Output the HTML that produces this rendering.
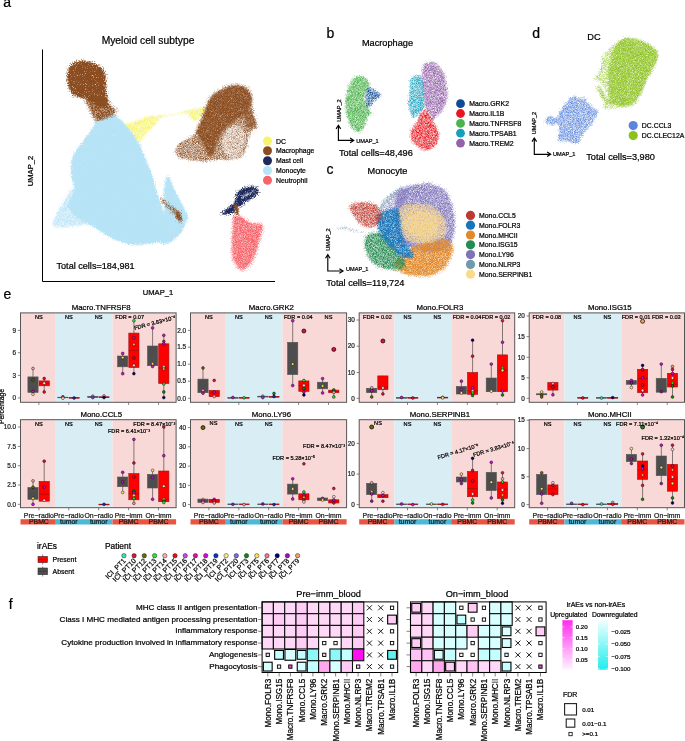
<!DOCTYPE html>
<html><head><meta charset="utf-8"><title>Figure</title>
<style>
html,body{margin:0;padding:0;background:#fff;}
svg{display:block;}
text{font-family:"Liberation Sans", sans-serif;}
svg{will-change:transform;}
</style></head><body>
<svg width="685" height="741" viewBox="0 0 685 741">
<rect width="685" height="741" fill="#fff"/>
<defs>
<filter id="sd" x="-10%" y="-10%" width="120%" height="120%" color-interpolation-filters="sRGB"><feTurbulence type="fractalNoise" baseFrequency="0.9" numOctaves="2" seed="7" result="n"/><feGaussianBlur in="SourceAlpha" stdDeviation="1.8" result="b"/><feComposite in="b" in2="n" operator="arithmetic" k1="0" k2="2.2" k3="-2.6" k4="0.75" result="m"/><feMorphology in="SourceGraphic" operator="dilate" radius="2" result="d"/><feComposite in="d" in2="m" operator="in"/></filter>
<filter id="ss" x="-10%" y="-10%" width="120%" height="120%" color-interpolation-filters="sRGB"><feTurbulence type="fractalNoise" baseFrequency="0.9" numOctaves="2" seed="3" result="n"/><feGaussianBlur in="SourceAlpha" stdDeviation="1.5" result="b"/><feComposite in="b" in2="n" operator="arithmetic" k1="0" k2="1.6" k3="-2.6" k4="0.95" result="m"/><feMorphology in="SourceGraphic" operator="dilate" radius="2" result="d"/><feComposite in="d" in2="m" operator="in"/></filter>
<filter id="sx" x="-10%" y="-10%" width="120%" height="120%" color-interpolation-filters="sRGB"><feTurbulence type="fractalNoise" baseFrequency="0.9" numOctaves="2" seed="11" result="n"/><feGaussianBlur in="SourceAlpha" stdDeviation="1.5" result="b"/><feComposite in="b" in2="n" operator="arithmetic" k1="0" k2="1.2" k3="-2.6" k4="1.05" result="m"/><feMorphology in="SourceGraphic" operator="dilate" radius="2" result="d"/><feComposite in="d" in2="m" operator="in"/></filter>
<filter id="p50" x="-10%" y="-10%" width="120%" height="120%" color-interpolation-filters="sRGB"><feTurbulence type="fractalNoise" baseFrequency="1.4" numOctaves="2" seed="5" result="n"/><feGaussianBlur in="SourceAlpha" stdDeviation="1.2" result="b"/><feComposite in="b" in2="n" operator="arithmetic" k1="0" k2="0.8" k3="-1.5" k4="0.5" result="m"/><feMorphology in="SourceGraphic" operator="dilate" radius="2" result="d"/><feComposite in="d" in2="m" operator="in"/></filter>
<filter id="p65" x="-10%" y="-10%" width="120%" height="120%" color-interpolation-filters="sRGB"><feTurbulence type="fractalNoise" baseFrequency="1.4" numOctaves="2" seed="9" result="n"/><feGaussianBlur in="SourceAlpha" stdDeviation="1.2" result="b"/><feComposite in="b" in2="n" operator="arithmetic" k1="0" k2="0.8" k3="-1.5" k4="0.62" result="m"/><feMorphology in="SourceGraphic" operator="dilate" radius="2" result="d"/><feComposite in="d" in2="m" operator="in"/></filter>
<filter id="p80" x="-10%" y="-10%" width="120%" height="120%" color-interpolation-filters="sRGB"><feTurbulence type="fractalNoise" baseFrequency="1.4" numOctaves="2" seed="13" result="n"/><feGaussianBlur in="SourceAlpha" stdDeviation="1.2" result="b"/><feComposite in="b" in2="n" operator="arithmetic" k1="0" k2="0.8" k3="-1.5" k4="0.76" result="m"/><feMorphology in="SourceGraphic" operator="dilate" radius="2" result="d"/><feComposite in="d" in2="m" operator="in"/></filter>
<filter id="p57" x="-10%" y="-10%" width="120%" height="120%" color-interpolation-filters="sRGB"><feTurbulence type="fractalNoise" baseFrequency="1.4" numOctaves="2" seed="17" result="n"/><feGaussianBlur in="SourceAlpha" stdDeviation="1.2" result="b"/><feComposite in="b" in2="n" operator="arithmetic" k1="0" k2="0.8" k3="-1.5" k4="0.56" result="m"/><feMorphology in="SourceGraphic" operator="dilate" radius="2" result="d"/><feComposite in="d" in2="m" operator="in"/></filter>
<filter id="p35" x="-10%" y="-10%" width="120%" height="120%" color-interpolation-filters="sRGB"><feTurbulence type="fractalNoise" baseFrequency="1.4" numOctaves="2" seed="21" result="n"/><feGaussianBlur in="SourceAlpha" stdDeviation="1.2" result="b"/><feComposite in="b" in2="n" operator="arithmetic" k1="0" k2="0.8" k3="-1.5" k4="0.3" result="m"/><feMorphology in="SourceGraphic" operator="dilate" radius="2" result="d"/><feComposite in="d" in2="m" operator="in"/></filter>
<filter id="p45" x="-10%" y="-10%" width="120%" height="120%" color-interpolation-filters="sRGB"><feTurbulence type="fractalNoise" baseFrequency="1.4" numOctaves="2" seed="23" result="n"/><feGaussianBlur in="SourceAlpha" stdDeviation="1.2" result="b"/><feComposite in="b" in2="n" operator="arithmetic" k1="0" k2="0.8" k3="-1.5" k4="0.4" result="m"/><feMorphology in="SourceGraphic" operator="dilate" radius="2" result="d"/><feComposite in="d" in2="m" operator="in"/></filter>
<filter id="p57b" x="-10%" y="-10%" width="120%" height="120%" color-interpolation-filters="sRGB"><feTurbulence type="fractalNoise" baseFrequency="1.4" numOctaves="2" seed="29" result="n"/><feGaussianBlur in="SourceAlpha" stdDeviation="2.0" result="b"/><feComposite in="b" in2="n" operator="arithmetic" k1="0" k2="0.8" k3="-1.5" k4="0.56" result="m"/><feMorphology in="SourceGraphic" operator="dilate" radius="2" result="d"/><feComposite in="d" in2="m" operator="in"/></filter>
</defs>
<text x="3.3" y="7.4" font-size="14" text-anchor="start" fill="#000" stroke="#000" stroke-width="0.22" >a</text>
<text x="326.6" y="37.5" font-size="14" text-anchor="start" fill="#000" stroke="#000" stroke-width="0.22" >b</text>
<text x="532.2" y="37.5" font-size="14" text-anchor="start" fill="#000" stroke="#000" stroke-width="0.22" >d</text>
<text x="326.6" y="174.2" font-size="14" text-anchor="start" fill="#000" stroke="#000" stroke-width="0.22" >c</text>
<text x="3.4" y="298.8" font-size="14" text-anchor="start" fill="#000" stroke="#000" stroke-width="0.22" >e</text>
<text x="8.8" y="608.8" font-size="14" text-anchor="start" fill="#000" stroke="#000" stroke-width="0.22" >f</text>
<text x="148.0" y="44.0" font-size="10.3" text-anchor="middle" fill="#000" stroke="#000" stroke-width="0.22" >Myeloid cell subtype</text>
<path d="M42.5,49.5 V281.5 H275" fill="none" stroke="#000" stroke-width="1"/>
<text x="33.2" y="171.0" font-size="7.6" text-anchor="middle" fill="#000" stroke="#000" stroke-width="0.22" transform="rotate(-90 33.2 171)">UMAP_2</text>
<text x="158.0" y="294.5" font-size="7.6" text-anchor="middle" fill="#000" stroke="#000" stroke-width="0.22" >UMAP_1</text>
<text x="56.5" y="268.9" font-size="9.1" text-anchor="start" fill="#000" stroke="#000" stroke-width="0.22" >Total cells=184,981</text>
<path d="M73.9,187.5 C72.5,188.2 69.7,191.9 67.8,194.5 C65.9,197.1 64.2,200.4 62.5,203.3 C60.8,206.2 58.9,209.1 57.3,212.0 C55.7,214.9 53.5,218.5 52.9,220.8 C52.3,223.2 52.2,224.9 53.8,226.1 C55.4,227.3 59.6,227.7 62.5,227.8 C65.4,227.9 68.4,227.3 71.3,226.9 C74.2,226.5 77.1,225.6 80.0,225.2 C82.9,224.8 86.2,223.9 88.8,224.3 C91.4,224.7 95.6,229.4 95.8,227.8 C96.0,226.2 92.3,219.6 90.0,215.0 C87.7,210.4 84.3,204.2 82.0,200.0 C79.7,195.8 77.3,192.1 76.0,190.0 C74.7,187.9 75.3,186.8 73.9,187.5Z" fill="#B7E3F7" filter="url(#p65)"/>
<path d="M94.0,125.0 C92.9,126.9 91.8,129.2 90.3,131.5 C88.8,133.8 86.8,136.2 85.0,138.5 C83.2,140.8 81.5,143.2 79.8,145.5 C78.0,147.8 75.8,150.2 74.5,152.6 C73.2,154.9 72.5,156.7 71.9,159.6 C71.3,162.5 71.0,166.5 71.0,170.0 C71.0,173.5 71.6,177.5 72.2,180.5 C72.8,183.5 74.5,185.4 74.5,188.0 C74.5,190.6 73.1,193.0 72.0,196.0 C70.9,199.0 67.5,202.7 68.0,206.0 C68.5,209.3 71.5,212.9 75.0,216.0 C78.5,219.1 85.3,222.3 88.8,224.3 C92.3,226.3 93.5,226.3 95.8,227.8 C98.1,229.3 100.2,231.3 102.8,233.1 C105.4,234.8 108.7,236.9 111.6,238.3 C114.5,239.8 117.1,240.8 120.3,241.8 C123.5,242.8 127.3,244.1 130.8,244.5 C134.3,244.9 138.2,244.7 141.4,244.5 C144.6,244.3 147.2,244.0 150.1,243.6 C153.0,243.2 156.2,242.8 158.9,242.2 C161.6,241.6 164.5,242.0 166.0,240.0 C167.5,238.0 168.3,234.3 168.0,230.0 C167.7,225.7 165.5,219.2 164.0,214.0 C162.5,208.8 160.5,203.7 159.0,199.0 C157.5,194.3 156.2,190.2 155.0,186.0 C153.8,181.8 152.9,177.4 151.6,173.6 C150.3,169.8 148.6,166.6 147.2,163.1 C145.8,159.6 144.2,155.8 142.9,152.6 C141.6,149.4 140.8,146.7 139.3,143.8 C137.8,140.9 136.1,137.9 134.1,135.0 C132.1,132.1 129.4,128.9 127.1,126.3 C124.8,123.7 122.6,121.4 120.1,119.3 C117.6,117.2 114.8,114.2 112.0,113.5 C109.2,112.8 105.5,113.9 103.0,115.0 C100.5,116.1 98.5,118.3 97.0,120.0 C95.5,121.7 95.1,123.1 94.0,125.0Z" fill="#B7E3F7" filter="url(#sd)"/>
<path d="M166.3,177.0 C167.2,175.1 168.5,176.5 169.7,178.3 C170.9,180.1 172.1,184.4 173.7,187.8 C175.3,191.2 177.3,194.9 179.1,198.5 C180.9,202.1 183.0,206.2 184.5,209.3 C186.0,212.5 187.9,214.7 187.9,217.4 C187.9,220.1 185.8,222.8 184.5,225.5 C183.2,228.2 182.5,231.0 180.4,233.6 C178.3,236.2 175.1,239.3 172.0,241.0 C168.9,242.7 164.0,245.5 162.0,244.0 C160.0,242.5 159.7,237.7 160.0,232.0 C160.3,226.3 163.3,217.0 164.0,210.0 C164.7,203.0 163.6,195.5 164.0,190.0 C164.4,184.5 165.4,178.9 166.3,177.0Z" fill="#B7E3F7" filter="url(#sd)"/>
<path d="M161.0,197.0 C162.2,197.3 165.7,201.2 168.0,203.0 C170.3,204.8 173.0,206.5 175.0,208.0 C177.0,209.5 178.8,210.0 180.0,212.0 C181.2,214.0 182.2,218.5 182.0,220.0 C181.8,221.5 180.3,221.8 179.0,221.0 C177.7,220.2 176.0,217.2 174.0,215.0 C172.0,212.8 169.2,210.3 167.0,208.0 C164.8,205.7 162.0,202.8 161.0,201.0 C160.0,199.2 159.8,196.7 161.0,197.0Z" fill="#8B4A1C" filter="url(#p50)"/>
<path d="M176.0,211.0 C176.5,210.5 178.1,211.0 179.0,212.0 C179.9,213.0 181.1,215.3 181.5,217.0 C181.9,218.7 182.1,221.5 181.5,222.0 C180.9,222.5 178.9,221.2 178.0,220.0 C177.1,218.8 176.3,216.5 176.0,215.0 C175.7,213.5 175.5,211.5 176.0,211.0Z" fill="#8B4D20" filter="url(#ss)"/>
<path d="M67.5,73.4 C67.9,71.2 68.4,68.0 69.7,66.1 C71.0,64.1 73.2,62.6 75.5,61.7 C77.8,60.8 80.8,60.4 83.6,60.5 C86.4,60.6 89.6,61.5 92.3,62.4 C95.0,63.3 97.5,64.5 99.6,66.1 C101.7,67.7 103.6,69.7 104.7,71.9 C105.8,74.1 106.0,76.5 106.2,79.2 C106.5,81.9 106.1,85.2 106.2,88.0 C106.3,90.8 106.6,93.3 107.0,96.0 C107.4,98.7 109.0,102.0 108.5,104.0 C108.0,106.0 105.8,107.7 104.0,108.0 C102.2,108.3 100.0,106.8 98.0,106.0 C96.0,105.2 94.2,104.2 92.0,103.0 C89.8,101.8 87.5,100.0 85.0,99.0 C82.5,98.0 79.2,97.9 77.0,97.0 C74.8,96.1 73.4,95.5 71.9,93.8 C70.4,92.0 69.0,88.9 68.2,86.5 C67.4,84.1 67.3,81.4 67.2,79.2 C67.1,77.0 67.1,75.6 67.5,73.4Z" fill="#8B4D20" filter="url(#ss)"/>
<path d="M92.0,96.0 C95.0,95.2 101.3,95.2 104.0,96.0 C106.7,96.8 106.8,99.3 108.0,101.0 C109.2,102.7 109.6,104.4 111.0,106.0 C112.4,107.6 116.3,108.9 116.6,110.5 C116.8,112.1 114.4,114.2 112.5,115.5 C110.6,116.8 107.6,117.6 105.0,118.5 C102.4,119.4 99.0,121.4 97.0,121.0 C95.0,120.6 94.3,118.2 93.0,116.0 C91.7,113.8 90.2,110.5 89.0,108.0 C87.8,105.5 85.5,103.0 86.0,101.0 C86.5,99.0 89.0,96.8 92.0,96.0Z" fill="#8B4D20" filter="url(#p80)"/>
<path d="M125.5,124.1 C126.4,122.9 131.1,122.4 133.9,121.4 C136.7,120.4 139.4,118.8 142.2,117.9 C145.0,117.0 148.0,116.2 150.5,115.8 C153.0,115.4 155.6,115.4 157.4,115.5 C159.2,115.6 161.4,115.8 161.6,116.5 C161.8,117.2 160.0,118.5 158.8,120.0 C157.7,121.5 156.3,123.7 154.7,125.5 C153.1,127.3 150.9,129.2 149.1,131.1 C147.2,132.9 145.2,134.8 143.6,136.6 C142.0,138.4 140.6,141.7 139.4,142.2 C138.2,142.7 137.8,140.8 136.6,139.4 C135.4,138.0 133.9,135.7 132.5,133.8 C131.1,132.0 129.5,129.9 128.3,128.3 C127.1,126.7 124.6,125.2 125.5,124.1Z" fill="#F6F46C" filter="url(#p65)"/>
<path d="M158.0,115.5 C159.2,114.9 163.3,114.9 166.0,114.5 C168.7,114.1 171.2,113.8 174.0,113.3 C176.8,112.8 180.7,111.8 183.0,111.5 C185.3,111.2 187.8,111.2 188.0,111.5 C188.2,111.8 186.2,112.9 184.0,113.5 C181.8,114.1 178.0,114.8 175.0,115.3 C172.0,115.8 168.7,116.3 166.0,116.8 C163.3,117.2 160.3,118.2 159.0,118.0 C157.7,117.8 156.8,116.1 158.0,115.5Z" fill="#F6F46C" filter="url(#p50)"/>
<path d="M182.4,111.6 C183.1,110.7 189.1,109.6 192.1,108.9 C195.1,108.2 198.1,107.6 200.4,107.5 C202.7,107.4 205.3,107.3 206.0,108.2 C206.7,109.1 205.8,111.3 204.6,113.0 C203.4,114.7 200.7,117.2 199.1,118.6 C197.5,120.0 196.3,121.4 194.9,121.4 C193.5,121.4 191.8,119.8 190.7,118.6 C189.5,117.4 189.4,115.6 188.0,114.4 C186.6,113.2 181.7,112.5 182.4,111.6Z" fill="#F6F46C" filter="url(#p65)"/>
<path d="M175.5,148.0 C176.3,146.4 177.6,144.0 179.7,142.4 C181.8,140.8 185.2,140.2 188.0,138.3 C190.8,136.5 194.6,133.6 196.4,131.3 C198.2,129.0 197.9,127.2 199.1,124.4 C200.2,121.6 201.9,118.2 203.3,114.7 C204.7,111.2 206.0,106.6 207.4,103.6 C208.8,100.6 209.8,98.7 211.6,96.6 C213.4,94.5 215.7,92.8 218.5,91.1 C221.3,89.4 225.3,87.2 228.3,86.2 C231.3,85.2 233.8,84.8 236.6,84.9 C239.4,85.0 242.7,85.8 244.9,86.9 C247.1,88.1 248.7,90.0 249.8,91.8 C251.0,93.6 251.0,94.2 251.8,98.0 C252.6,101.8 253.7,110.5 254.6,114.7 C255.5,118.9 257.0,120.7 257.4,123.0 C257.8,125.3 257.6,127.1 256.7,128.5 C255.8,129.9 253.1,129.7 251.8,131.3 C250.5,132.9 249.8,135.8 249.1,138.3 C248.4,140.9 248.6,143.8 247.7,146.6 C246.8,149.4 245.3,152.8 243.5,154.9 C241.7,157.0 239.6,158.2 236.6,159.1 C233.6,160.0 229.0,160.2 225.5,160.4 C222.0,160.6 219.3,160.2 215.8,160.4 C212.3,160.6 208.9,161.8 204.7,161.8 C200.5,161.8 195.2,161.1 190.8,160.4 C186.4,159.7 181.0,159.1 178.3,157.7 C175.7,156.3 175.4,153.7 174.9,152.1 C174.4,150.5 174.7,149.6 175.5,148.0Z" fill="#8B4D20" filter="url(#p50)"/>
<path d="M207.4,103.6 C208.8,100.6 209.8,98.7 211.6,96.6 C213.4,94.5 215.7,92.8 218.5,91.1 C221.3,89.4 225.3,87.2 228.3,86.2 C231.3,85.2 233.8,84.8 236.6,84.9 C239.4,85.0 242.7,85.8 244.9,86.9 C247.1,88.1 248.7,90.0 249.8,91.8 C251.0,93.6 251.7,95.8 251.8,98.0 C251.9,100.2 251.1,102.9 250.4,105.0 C249.7,107.1 249.1,108.7 247.7,110.5 C246.3,112.3 244.2,114.2 242.1,116.1 C240.0,117.9 237.5,120.0 235.2,121.6 C232.9,123.2 230.4,124.2 228.3,125.8 C226.2,127.4 224.3,129.2 222.7,131.3 C221.1,133.4 219.7,135.8 218.5,138.3 C217.3,140.9 216.7,143.8 215.8,146.6 C214.9,149.4 214.4,153.5 213.0,154.9 C211.6,156.3 208.8,156.3 207.4,154.9 C206.0,153.5 206.1,149.4 204.7,146.6 C203.3,143.8 200.5,140.9 199.1,138.3 C197.7,135.8 196.4,133.6 196.4,131.3 C196.4,129.0 197.9,127.2 199.1,124.4 C200.2,121.6 201.9,118.2 203.3,114.7 C204.7,111.2 206.0,106.6 207.4,103.6Z" fill="#8B4D20" filter="url(#p80)"/>
<path d="M244.0,114.0 C244.7,111.0 248.3,107.7 250.0,108.0 C251.7,108.3 253.0,113.3 254.0,116.0 C255.0,118.7 256.3,121.8 256.0,124.0 C255.7,126.2 253.7,128.7 252.0,129.0 C250.3,129.3 247.3,128.5 246.0,126.0 C244.7,123.5 243.3,117.0 244.0,114.0Z" fill="#8B4D20" filter="url(#p57)"/>
<path d="M226.0,130.0 C228.0,127.5 231.3,125.3 234.0,125.0 C236.7,124.7 240.0,125.8 242.0,128.0 C244.0,130.2 245.7,134.3 246.0,138.0 C246.3,141.7 245.3,146.7 244.0,150.0 C242.7,153.3 240.7,156.7 238.0,158.0 C235.3,159.3 230.7,159.3 228.0,158.0 C225.3,156.7 223.0,153.0 222.0,150.0 C221.0,147.0 221.3,143.3 222.0,140.0 C222.7,136.7 224.0,132.5 226.0,130.0Z" fill="#fff" filter="url(#p45)"/>
<path d="M236.3,193.9 C237.2,192.4 239.1,190.4 241.0,189.2 C242.9,188.0 245.6,187.3 247.8,186.9 C250.1,186.5 252.7,186.0 254.5,186.5 C256.3,187.0 257.9,188.6 258.5,189.8 C259.1,191.0 258.8,192.6 257.9,193.9 C257.0,195.2 255.0,196.7 253.1,197.9 C251.2,199.1 248.2,200.1 246.4,201.3 C244.6,202.5 243.8,204.3 242.4,205.3 C241.1,206.3 239.4,206.4 238.3,207.4 C237.2,208.4 236.9,210.3 235.6,211.4 C234.2,212.5 232.7,213.7 230.2,214.1 C227.7,214.5 221.7,214.8 220.8,214.1 C219.9,213.4 223.2,211.4 224.8,210.1 C226.4,208.8 228.5,207.3 230.2,206.0 C231.9,204.7 234.0,203.3 234.9,202.0 C235.8,200.7 235.4,199.2 235.6,197.9 C235.8,196.6 235.4,195.4 236.3,193.9Z" fill="#1F2A5C" filter="url(#ss)"/>
<path d="M241.0,197.0 C241.7,195.8 244.2,193.7 246.0,192.5 C247.8,191.3 250.3,190.3 252.0,190.0 C253.7,189.7 256.0,189.8 256.0,190.5 C256.0,191.2 253.7,192.8 252.0,194.0 C250.3,195.2 247.7,196.5 246.0,197.5 C244.3,198.5 242.8,200.1 242.0,200.0 C241.2,199.9 240.3,198.2 241.0,197.0Z" fill="#fff" filter="url(#p45)"/>
<path d="M233.6,216.8 C234.9,215.5 238.9,216.1 241.0,216.8 C243.1,217.5 244.2,219.7 246.4,220.8 C248.7,221.9 251.9,222.8 254.5,223.5 C257.1,224.2 260.5,223.8 261.9,224.9 C263.2,226.0 262.9,228.1 262.6,230.3 C262.3,232.6 260.7,235.5 259.9,238.4 C259.1,241.3 258.8,244.9 257.9,247.8 C257.0,250.7 255.8,253.2 254.5,255.9 C253.2,258.6 252.2,261.8 250.4,264.0 C248.6,266.2 245.7,268.7 243.7,269.4 C241.7,270.1 240.1,269.8 238.3,268.0 C236.5,266.2 234.0,262.0 232.9,258.6 C231.8,255.2 231.7,251.6 231.6,247.8 C231.5,244.0 232.0,239.5 232.2,235.7 C232.4,231.9 232.7,228.1 232.9,224.9 C233.1,221.8 232.2,218.2 233.6,216.8Z" fill="#F7646B" filter="url(#p80)"/>
<path d="M234.0,205.0 C234.3,203.2 237.2,203.5 238.0,205.0 C238.8,206.5 239.3,212.2 239.0,214.0 C238.7,215.8 236.8,217.5 236.0,216.0 C235.2,214.5 233.7,206.8 234.0,205.0Z" fill="#8B4D20" filter="url(#ss)"/>
<circle cx="267.5" cy="141.0" r="4.5" fill="#F6F46C"/>
<text x="276.0" y="143.5" font-size="6.9" text-anchor="start" fill="#000" stroke="#000" stroke-width="0.22" >DC</text>
<circle cx="267.5" cy="150.8" r="4.5" fill="#8B4D20"/>
<text x="276.0" y="153.3" font-size="6.9" text-anchor="start" fill="#000" stroke="#000" stroke-width="0.22" >Macrophage</text>
<circle cx="267.5" cy="160.7" r="4.5" fill="#1F2A5C"/>
<text x="276.0" y="163.2" font-size="6.9" text-anchor="start" fill="#000" stroke="#000" stroke-width="0.22" >Mast cell</text>
<circle cx="267.5" cy="170.5" r="4.5" fill="#B7E3F7"/>
<text x="276.0" y="173.0" font-size="6.9" text-anchor="start" fill="#000" stroke="#000" stroke-width="0.22" >Monocyte</text>
<circle cx="267.5" cy="180.3" r="4.5" fill="#F7646B"/>
<text x="276.0" y="182.8" font-size="6.9" text-anchor="start" fill="#000" stroke="#000" stroke-width="0.22" >Neutrophil</text>
<text x="387.5" y="45.5" font-size="9.2" text-anchor="middle" fill="#000" stroke="#000" stroke-width="0.22" >Macrophage</text>
<path d="M356.1,76.6 C358.0,75.5 360.0,75.4 361.7,75.7 C363.4,76.0 365.2,77.2 366.5,78.5 C367.8,79.8 369.0,81.5 369.3,83.2 C369.6,84.9 369.0,87.2 368.4,88.9 C367.8,90.6 366.1,92.0 365.5,93.6 C364.9,95.2 364.4,96.7 364.6,98.4 C364.8,100.1 365.7,102.1 366.5,104.0 C367.3,105.9 368.4,108.1 369.3,109.7 C370.2,111.3 372.2,112.5 372.1,113.5 C372.0,114.5 369.3,114.2 368.4,115.4 C367.5,116.7 367.1,119.1 366.5,121.0 C365.9,122.9 365.6,125.0 364.6,126.7 C363.7,128.4 362.1,130.5 360.8,131.4 C359.5,132.3 358.4,132.9 357.0,132.4 C355.6,131.9 353.6,130.2 352.3,128.6 C351.1,127.0 350.4,125.1 349.5,122.9 C348.6,120.7 347.3,118.2 346.6,115.4 C345.9,112.6 345.4,109.1 345.2,105.9 C345.0,102.8 345.3,99.3 345.7,96.5 C346.1,93.7 346.8,91.3 347.6,88.9 C348.4,86.5 349.0,84.3 350.4,82.3 C351.8,80.2 354.2,77.7 356.1,76.6Z" fill="#4DB34D" filter="url(#p65)"/>
<path d="M367.4,87.0 C368.3,86.2 369.8,86.4 371.2,87.0 C372.6,87.6 374.2,89.7 375.9,90.8 C377.6,91.9 380.8,92.6 381.6,93.6 C382.4,94.5 381.6,95.4 380.6,96.5 C379.7,97.6 377.3,98.8 375.9,100.2 C374.5,101.6 373.4,103.7 372.1,105.0 C370.9,106.3 369.5,107.6 368.4,107.8 C367.3,108.0 366.1,107.5 365.5,105.9 C364.9,104.3 365.0,100.8 365.0,98.4 C365.0,96.0 365.1,93.6 365.5,91.7 C365.9,89.8 366.4,87.8 367.4,87.0Z" fill="#0E4C97" filter="url(#p50)"/>
<path d="M422.9,65.8 C424.0,63.1 426.3,62.3 428.3,61.7 C430.3,61.1 433.0,61.5 435.0,62.4 C437.0,63.3 438.8,65.2 440.4,67.1 C442.0,69.0 443.5,71.4 444.5,73.9 C445.5,76.4 445.9,78.9 446.5,82.0 C447.1,85.1 447.9,89.3 447.9,92.7 C447.9,96.1 447.5,99.1 446.5,102.2 C445.5,105.3 443.5,109.1 441.8,111.6 C440.1,114.1 438.0,115.4 436.4,117.0 C434.8,118.6 433.5,121.5 432.4,121.1 C431.3,120.6 430.8,116.3 429.7,114.3 C428.6,112.3 426.6,111.4 425.6,108.9 C424.6,106.4 424.2,102.9 423.6,99.5 C423.0,96.1 422.5,92.3 422.2,88.7 C421.9,85.1 421.5,81.7 421.6,77.9 C421.7,74.1 421.8,68.5 422.9,65.8Z" fill="#9462AA" filter="url(#p57)"/>
<path d="M410.8,77.9 C411.7,76.8 413.2,75.7 414.8,75.2 C416.4,74.8 418.7,74.1 420.2,75.2 C421.7,76.3 422.9,79.1 423.6,82.0 C424.3,84.9 424.1,89.3 424.3,92.7 C424.5,96.1 424.9,99.5 424.9,102.2 C424.9,104.9 425.3,106.9 424.3,108.9 C423.3,110.9 420.7,112.7 418.9,114.3 C417.1,115.9 415.1,118.9 413.5,118.4 C411.9,118.0 410.3,114.5 409.4,111.6 C408.5,108.7 408.1,104.4 408.1,100.8 C408.1,97.2 409.2,93.1 409.4,90.0 C409.6,86.9 409.2,84.0 409.4,82.0 C409.6,80.0 409.9,79.0 410.8,77.9Z" fill="#17A0BE" filter="url(#p50)"/>
<path d="M420.2,113.0 C421.6,111.0 424.0,108.7 425.6,108.9 C427.2,109.1 428.4,112.0 429.7,114.3 C431.0,116.5 432.4,120.2 433.7,122.4 C435.0,124.7 436.8,125.5 437.7,127.8 C438.6,130.1 439.3,133.2 439.1,135.9 C438.9,138.6 437.8,141.8 436.4,144.0 C435.0,146.2 433.0,148.3 431.0,149.4 C429.0,150.5 426.6,151.1 424.3,150.7 C422.1,150.2 419.5,148.3 417.5,146.7 C415.5,145.1 413.3,143.3 412.1,141.3 C410.9,139.3 410.1,136.8 410.1,134.5 C410.1,132.2 410.9,130.0 412.1,127.8 C413.3,125.6 416.1,123.6 417.5,121.1 C418.9,118.6 418.8,115.0 420.2,113.0Z" fill="#E8161E" filter="url(#p57)"/>
<path d="M338.4,125.8 V140.4 H353.2" fill="none" stroke="#000" stroke-width="1.15"/>
<path d="M336.09999999999997,128.9 L338.4,125.3 L340.7,128.9" fill="none" stroke="#000" stroke-width="1.15"/>
<path d="M350.09999999999997,138.1 L353.7,140.4 L350.09999999999997,142.70000000000002" fill="none" stroke="#000" stroke-width="1.15"/>
<text x="356.3" y="142.5" font-size="5.6" text-anchor="start" fill="#000" stroke="#000" stroke-width="0.22" >UMAP_1</text>
<text x="341.4" y="110.5" font-size="5.6" text-anchor="middle" fill="#000" stroke="#000" stroke-width="0.22" transform="rotate(-90 341.4 110.5)">UMAP_2</text>
<text x="339.0" y="155.9" font-size="9.2" text-anchor="start" fill="#000" stroke="#000" stroke-width="0.22" >Total cells=48,496</text>
<circle cx="460.5" cy="103.7" r="4.4" fill="#0E4C97"/>
<text x="469.2" y="106.2" font-size="6.9" text-anchor="start" fill="#000" stroke="#000" stroke-width="0.22" >Macro.GRK2</text>
<circle cx="460.5" cy="113.5" r="4.4" fill="#E8161E"/>
<text x="469.2" y="116.0" font-size="6.9" text-anchor="start" fill="#000" stroke="#000" stroke-width="0.22" >Macro.IL1B</text>
<circle cx="460.5" cy="123.4" r="4.4" fill="#4DB34D"/>
<text x="469.2" y="125.9" font-size="6.9" text-anchor="start" fill="#000" stroke="#000" stroke-width="0.22" >Macro.TNFRSF8</text>
<circle cx="460.5" cy="133.2" r="4.4" fill="#17A0BE"/>
<text x="469.2" y="135.8" font-size="6.9" text-anchor="start" fill="#000" stroke="#000" stroke-width="0.22" >Macro.TPSAB1</text>
<circle cx="460.5" cy="143.1" r="4.4" fill="#9462AA"/>
<text x="469.2" y="145.6" font-size="6.9" text-anchor="start" fill="#000" stroke="#000" stroke-width="0.22" >Macro.TREM2</text>
<text x="594.0" y="40.0" font-size="9.2" text-anchor="middle" fill="#000" stroke="#000" stroke-width="0.22" >DC</text>
<path d="M602.1,55.0 C604.2,52.3 609.5,46.4 613.8,43.4 C618.1,40.4 622.8,37.2 627.8,36.8 C632.8,36.4 639.4,39.1 644.1,41.0 C648.8,42.9 653.3,45.7 655.8,48.0 C658.3,50.3 659.3,51.9 659.3,55.0 C659.3,58.1 657.5,62.8 655.8,66.7 C654.0,70.6 650.8,74.5 648.8,78.4 C646.8,82.3 645.6,86.6 644.1,90.1 C642.6,93.6 641.4,96.7 639.5,99.4 C637.6,102.1 636.0,104.8 632.5,106.4 C629.0,108.0 622.7,108.2 618.4,108.8 C614.1,109.4 609.5,110.3 606.8,109.9 C604.1,109.5 602.3,108.2 602.1,106.4 C601.9,104.7 605.2,102.1 605.6,99.4 C606.0,96.7 605.4,92.8 604.4,90.1 C603.4,87.4 601.2,84.7 599.7,83.1 C598.2,81.5 596.5,81.3 595.1,80.7 C593.8,80.1 591.6,80.4 591.6,79.6 C591.6,78.8 593.8,78.2 595.1,76.1 C596.5,73.9 598.7,69.4 599.7,66.7 C600.7,64.0 600.5,61.7 600.9,59.7 C601.3,57.8 600.0,57.7 602.1,55.0Z" fill="#8CC21E" filter="url(#p35)"/>
<path d="M618.0,42.0 C620.8,38.9 623.7,37.6 628.0,37.5 C632.3,37.4 639.5,39.7 644.0,41.5 C648.5,43.3 652.7,46.1 655.0,48.5 C657.3,50.9 658.2,52.9 658.0,56.0 C657.8,59.1 655.8,63.2 654.0,67.0 C652.2,70.8 649.0,75.0 647.0,79.0 C645.0,83.0 643.8,87.3 642.0,91.0 C640.2,94.7 638.5,98.5 636.0,101.0 C633.5,103.5 630.3,105.2 627.0,106.0 C623.7,106.8 618.8,107.0 616.0,106.0 C613.2,105.0 611.3,103.0 610.0,100.0 C608.7,97.0 608.3,92.7 608.0,88.0 C607.7,83.3 607.5,77.3 608.0,72.0 C608.5,66.7 609.3,61.0 611.0,56.0 C612.7,51.0 615.2,45.1 618.0,42.0Z" fill="#8CC21E" filter="url(#p57)"/>
<path d="M596.0,86.0 C596.3,84.7 600.3,86.3 602.0,88.0 C603.7,89.7 604.3,93.7 606.0,96.0 C607.7,98.3 611.8,100.7 612.0,102.0 C612.2,103.3 609.0,105.0 607.0,104.0 C605.0,103.0 601.8,99.0 600.0,96.0 C598.2,93.0 595.7,87.3 596.0,86.0Z" fill="#8CC21E" filter="url(#p50)"/>
<path d="M570.4,97.3 C571.5,96.7 573.5,95.2 575.1,95.4 C576.7,95.6 578.2,98.1 579.8,98.3 C581.4,98.5 583.3,95.8 584.6,96.4 C585.9,97.0 586.0,100.4 587.4,102.1 C588.8,103.8 591.4,105.4 593.1,106.8 C594.9,108.2 597.3,109.0 597.9,110.6 C598.5,112.2 597.7,114.2 596.9,116.3 C596.1,118.4 594.5,121.0 593.1,123.0 C591.7,125.0 590.1,126.5 588.4,128.6 C586.7,130.7 584.1,133.1 582.7,135.3 C581.3,137.5 581.1,140.4 579.8,141.9 C578.5,143.4 577.0,144.3 575.1,144.3 C573.2,144.3 570.7,142.3 568.5,141.9 C566.3,141.5 563.6,142.2 561.8,141.9 C560.0,141.6 558.2,141.6 557.6,140.0 C557.0,138.4 557.8,134.6 558.0,132.4 C558.2,130.2 559.3,128.1 559.0,126.7 C558.7,125.3 557.1,124.1 556.1,123.9 C555.1,123.8 554.7,125.8 553.3,125.8 C551.9,125.8 549.0,124.6 547.6,123.9 C546.2,123.2 544.7,122.8 544.7,121.5 C544.7,120.2 546.3,117.3 547.6,116.3 C548.9,115.3 550.7,115.2 552.3,115.4 C553.9,115.6 555.8,118.2 557.1,117.3 C558.4,116.3 558.6,111.9 559.9,109.7 C561.2,107.5 563.3,105.8 564.7,104.0 C566.1,102.2 567.5,100.3 568.5,99.2 C569.5,98.1 569.3,97.9 570.4,97.3Z" fill="#5B86DC" filter="url(#p50)"/>
<path d="M534.3,138.5 V154.3 H550.2" fill="none" stroke="#000" stroke-width="1.15"/>
<path d="M532.0,141.6 L534.3,138 L536.5999999999999,141.6" fill="none" stroke="#000" stroke-width="1.15"/>
<path d="M547.1,152.0 L550.7,154.3 L547.1,156.60000000000002" fill="none" stroke="#000" stroke-width="1.15"/>
<text x="553.0" y="155.6" font-size="5.6" text-anchor="start" fill="#000" stroke="#000" stroke-width="0.22" >UMAP_1</text>
<text x="536.2" y="123.0" font-size="5.6" text-anchor="middle" fill="#000" stroke="#000" stroke-width="0.22" transform="rotate(-90 536.2 123)">UMAP_2</text>
<text x="586.2" y="159.7" font-size="9.2" text-anchor="start" fill="#000" stroke="#000" stroke-width="0.22" >Total cells=3,980</text>
<circle cx="633.2" cy="125.6" r="4.6" fill="#5B86DC"/>
<text x="641.8" y="128.1" font-size="6.9" text-anchor="start" fill="#000" stroke="#000" stroke-width="0.22" >DC.CCL3</text>
<circle cx="633.2" cy="135.6" r="4.6" fill="#8CC21E"/>
<text x="641.8" y="138.1" font-size="6.9" text-anchor="start" fill="#000" stroke="#000" stroke-width="0.22" >DC.CLEC12A</text>
<text x="387.5" y="174.0" font-size="9.2" text-anchor="middle" fill="#000" stroke="#000" stroke-width="0.22" >Monocyte</text>
<path d="M379.3,208.5 C379.0,207.0 380.1,204.8 381.0,203.0 C381.9,201.2 383.1,199.8 385.0,198.0 C386.9,196.2 390.1,194.1 392.6,192.3 C395.1,190.6 398.3,188.2 400.2,187.5 C402.1,186.8 404.4,186.9 404.0,188.0 C403.6,189.1 400.2,192.0 398.0,194.0 C395.8,196.0 393.0,198.0 391.0,200.0 C389.0,202.0 387.3,204.0 386.0,206.0 C384.7,208.0 384.1,211.6 383.0,212.0 C381.9,212.4 379.6,210.0 379.3,208.5Z" fill="#7098AF" filter="url(#p50)"/>
<path d="M334.7,228.4 C335.0,227.8 338.2,226.9 340.0,226.5 C341.8,226.1 343.2,225.8 345.2,226.0 C347.2,226.2 349.5,227.3 352.0,228.0 C354.5,228.7 357.3,229.2 360.0,230.0 C362.7,230.8 366.8,231.8 368.0,232.5 C369.2,233.2 369.0,234.0 367.0,234.0 C365.0,234.0 359.7,233.2 356.0,232.5 C352.3,231.8 348.0,230.4 345.0,230.0 C342.0,229.6 339.7,230.1 338.0,229.8 C336.3,229.5 334.4,229.0 334.7,228.4Z" fill="#7098AF" filter="url(#p35)"/>
<path d="M384.0,209.0 C383.7,206.5 386.0,202.0 388.0,199.0 C390.0,196.0 393.3,192.8 396.0,191.0 C398.7,189.2 401.7,188.2 404.0,188.0 C406.3,187.8 409.8,188.0 410.0,190.0 C410.2,192.0 406.8,196.8 405.0,200.0 C403.2,203.2 401.5,206.7 399.0,209.0 C396.5,211.3 392.5,214.0 390.0,214.0 C387.5,214.0 384.3,211.5 384.0,209.0Z" fill="#9A9CC8" filter="url(#p50)"/>
<path d="M397.0,193.0 C398.7,189.5 401.5,188.5 405.0,187.0 C408.5,185.5 413.5,184.6 418.0,184.0 C422.5,183.4 427.2,182.3 431.8,183.4 C436.4,184.5 442.3,186.5 445.8,190.4 C449.3,194.3 451.2,200.9 452.8,206.7 C454.4,212.5 455.2,219.9 455.2,225.4 C455.2,230.9 454.0,235.6 452.8,239.4 C451.6,243.2 450.1,245.9 448.0,248.0 C445.9,250.1 443.8,251.3 440.0,252.0 C436.2,252.7 430.0,252.7 425.0,252.0 C420.0,251.3 414.2,250.0 410.0,248.0 C405.8,246.0 402.3,243.8 400.0,240.0 C397.7,236.2 396.8,230.3 396.0,225.0 C395.2,219.7 394.8,213.3 395.0,208.0 C395.2,202.7 395.3,196.5 397.0,193.0Z" fill="#7D73B9" filter="url(#p65)"/>
<path d="M394.4,262.8 C395.6,260.3 399.9,256.5 403.8,253.4 C407.7,250.3 413.1,246.5 417.8,244.4 C422.5,242.3 427.1,241.7 431.8,240.9 C436.5,240.1 442.3,238.9 445.8,239.8 C449.3,240.7 452.0,243.3 452.8,246.4 C453.6,249.5 452.1,254.4 450.5,258.1 C448.9,261.8 446.6,265.8 443.5,268.6 C440.4,271.4 436.1,273.6 431.8,274.9 C427.5,276.1 422.5,276.4 417.8,276.1 C413.1,275.8 407.3,274.6 403.8,273.3 C400.3,272.1 398.4,270.4 396.8,268.6 C395.2,266.9 393.2,265.3 394.4,262.8Z" fill="#E28A2B" filter="url(#p80)"/>
<path d="M365.2,237.1 C366.6,234.4 370.1,232.8 373.4,232.4 C376.7,232.0 381.6,232.4 385.1,234.7 C388.6,237.0 391.7,242.8 394.4,246.4 C397.1,250.0 399.5,252.8 401.4,256.1 C403.3,259.5 407.0,264.2 405.8,266.5 C404.6,268.8 398.6,269.6 394.4,269.8 C390.2,270.0 384.5,269.1 380.4,267.5 C376.3,265.9 372.4,263.5 369.9,260.4 C367.4,257.3 366.0,252.7 365.2,248.8 C364.4,244.9 363.8,239.8 365.2,237.1Z" fill="#258B50" filter="url(#p65)"/>
<path d="M378.1,213.7 C379.9,211.5 383.9,210.9 387.4,210.2 C390.9,209.4 396.6,207.0 398.9,209.2 C401.2,211.3 400.5,218.4 401.3,223.1 C402.1,227.8 402.4,233.0 403.6,237.1 C404.8,241.2 406.6,244.7 408.4,247.8 C410.1,250.9 414.5,254.1 414.1,255.8 C413.7,257.5 409.0,258.5 406.1,258.1 C403.2,257.7 399.9,255.7 396.8,253.4 C393.7,251.1 390.1,247.2 387.4,244.1 C384.7,241.0 382.1,238.2 380.4,234.7 C378.6,231.2 377.3,226.6 376.9,223.1 C376.5,219.6 376.4,215.8 378.1,213.7Z" fill="#1775BB" filter="url(#p80)"/>
<path d="M400.0,207.0 C402.4,205.3 408.6,203.9 413.1,203.5 C417.6,203.1 423.0,203.5 427.1,204.5 C431.2,205.5 434.9,207.4 437.8,209.7 C440.8,212.0 443.2,214.9 444.8,218.1 C446.4,221.3 447.3,225.5 447.1,228.7 C446.9,231.9 445.8,234.9 443.6,237.1 C441.4,239.3 437.6,240.6 434.1,241.8 C430.6,243.0 426.4,244.1 422.5,244.1 C418.6,244.1 414.1,243.4 410.8,241.8 C407.5,240.2 404.5,237.8 402.6,234.7 C400.7,231.6 400.1,226.6 399.5,223.1 C398.9,219.6 398.9,216.1 399.0,213.4 C399.1,210.7 397.6,208.7 400.0,207.0Z" fill="#FCDA8C" filter="url(#p57)"/>
<path d="M407.0,214.0 C409.0,212.0 412.5,210.5 416.0,210.0 C419.5,209.5 424.5,209.8 428.0,211.0 C431.5,212.2 435.0,214.3 437.0,217.0 C439.0,219.7 440.2,223.8 440.0,227.0 C439.8,230.2 438.2,234.0 436.0,236.0 C433.8,238.0 430.5,238.7 427.0,239.0 C423.5,239.3 418.3,239.2 415.0,238.0 C411.7,236.8 408.8,234.7 407.0,232.0 C405.2,229.3 404.0,225.0 404.0,222.0 C404.0,219.0 405.0,216.0 407.0,214.0Z" fill="#FCDA8C" filter="url(#p57b)"/>
<path d="M350.0,204.4 C351.9,203.2 357.8,202.2 361.7,202.0 C365.6,201.8 370.3,202.0 373.4,203.2 C376.5,204.4 379.0,206.6 380.4,209.1 C381.8,211.6 382.2,215.7 381.6,218.4 C381.0,221.1 379.0,223.9 376.9,225.4 C374.8,226.9 371.4,227.9 368.7,227.7 C366.0,227.5 363.0,226.1 360.5,224.2 C358.0,222.3 355.2,218.6 353.5,216.1 C351.8,213.6 350.6,211.0 350.0,209.1 C349.4,207.2 348.1,205.6 350.0,204.4Z" fill="#BE3A2F" filter="url(#p57)"/>
<path d="M327.8,255.1 V271 H342.5" fill="none" stroke="#000" stroke-width="1.15"/>
<path d="M325.5,258.2 L327.8,254.6 L330.1,258.2" fill="none" stroke="#000" stroke-width="1.15"/>
<path d="M339.4,268.7 L343,271 L339.4,273.3" fill="none" stroke="#000" stroke-width="1.15"/>
<text x="346.0" y="271.3" font-size="5.6" text-anchor="start" fill="#000" stroke="#000" stroke-width="0.22" >UMAP_1</text>
<text x="329.8" y="239.5" font-size="5.6" text-anchor="middle" fill="#000" stroke="#000" stroke-width="0.22" transform="rotate(-90 329.8 239.5)">UMAP_2</text>
<text x="326.2" y="286.1" font-size="9.2" text-anchor="start" fill="#000" stroke="#000" stroke-width="0.22" >Total cells=119,724</text>
<circle cx="470.5" cy="215.4" r="4.6" fill="#BE3A2F"/>
<text x="479.0" y="217.9" font-size="6.9" text-anchor="start" fill="#000" stroke="#000" stroke-width="0.22" >Mono.CCL5</text>
<circle cx="470.5" cy="225.2" r="4.6" fill="#1775BB"/>
<text x="479.0" y="227.7" font-size="6.9" text-anchor="start" fill="#000" stroke="#000" stroke-width="0.22" >Mono.FOLR3</text>
<circle cx="470.5" cy="235.0" r="4.6" fill="#E28A2B"/>
<text x="479.0" y="237.5" font-size="6.9" text-anchor="start" fill="#000" stroke="#000" stroke-width="0.22" >Mono.MHCII</text>
<circle cx="470.5" cy="244.8" r="4.6" fill="#258B50"/>
<text x="479.0" y="247.3" font-size="6.9" text-anchor="start" fill="#000" stroke="#000" stroke-width="0.22" >Mono.ISG15</text>
<circle cx="470.5" cy="254.6" r="4.6" fill="#7D73B9"/>
<text x="479.0" y="257.1" font-size="6.9" text-anchor="start" fill="#000" stroke="#000" stroke-width="0.22" >Mono.LY96</text>
<circle cx="470.5" cy="264.4" r="4.6" fill="#7098AF"/>
<text x="479.0" y="266.9" font-size="6.9" text-anchor="start" fill="#000" stroke="#000" stroke-width="0.22" >Mono.NLRP3</text>
<circle cx="470.5" cy="274.2" r="4.6" fill="#FCDA8C"/>
<text x="479.0" y="276.7" font-size="6.9" text-anchor="start" fill="#000" stroke="#000" stroke-width="0.22" >Mono.SERPINB1</text>
<rect x="20.5" y="312.9" width="35.3" height="89.4" fill="#F9D9D7"/>
<rect x="55.8" y="312.9" width="56.7" height="89.4" fill="#D9EDF5"/>
<rect x="112.5" y="312.9" width="63.6" height="89.4" fill="#F9D9D7"/>
<text x="101.2" y="309.7" font-size="7.8" text-anchor="middle" fill="#000" stroke="#000" stroke-width="0.22" >Macro.TNFRSF8</text>
<line x1="17.9" y1="330.4" x2="20.5" y2="330.4" stroke="#333" stroke-width="0.6"/>
<text x="16.1" y="332.6" font-size="6.4" text-anchor="end" fill="#222" stroke="#222" stroke-width="0.22" >9</text>
<line x1="17.9" y1="352.7" x2="20.5" y2="352.7" stroke="#333" stroke-width="0.6"/>
<text x="16.1" y="354.9" font-size="6.4" text-anchor="end" fill="#222" stroke="#222" stroke-width="0.22" >6</text>
<line x1="17.9" y1="375.4" x2="20.5" y2="375.4" stroke="#333" stroke-width="0.6"/>
<text x="16.1" y="377.6" font-size="6.4" text-anchor="end" fill="#222" stroke="#222" stroke-width="0.22" >3</text>
<line x1="17.9" y1="397.9" x2="20.5" y2="397.9" stroke="#333" stroke-width="0.6"/>
<text x="16.1" y="400.1" font-size="6.4" text-anchor="end" fill="#222" stroke="#222" stroke-width="0.22" >0</text>
<line x1="38.9" y1="402.3" x2="38.9" y2="404.90000000000003" stroke="#333" stroke-width="0.6"/>
<line x1="68.8" y1="402.3" x2="68.8" y2="404.90000000000003" stroke="#333" stroke-width="0.6"/>
<line x1="98.7" y1="402.3" x2="98.7" y2="404.90000000000003" stroke="#333" stroke-width="0.6"/>
<line x1="128.6" y1="402.3" x2="128.6" y2="404.90000000000003" stroke="#333" stroke-width="0.6"/>
<line x1="158.5" y1="402.3" x2="158.5" y2="404.90000000000003" stroke="#333" stroke-width="0.6"/>
<line x1="33.0" y1="368.5" x2="33.0" y2="394" stroke="#333" stroke-width="0.6"/>
<rect x="27.9" y="376.9" width="10.2" height="15.5" fill="#4D4D4D" stroke="#555" stroke-width="0.6"/>
<line x1="27.9" y1="385" x2="38.1" y2="385" stroke="#555" stroke-width="0.7"/>
<circle cx="33.0" cy="368.5" r="1.4" fill="#F4A8B0" stroke="#000" stroke-width="0.45"/>
<circle cx="33.0" cy="379.8" r="1.4" fill="#6B6B00" stroke="#000" stroke-width="0.45"/>
<circle cx="33.0" cy="391.5" r="1.4" fill="#D010D0" stroke="#000" stroke-width="0.45"/>
<circle cx="33.0" cy="394.2" r="1.4" fill="#F8E890" stroke="#000" stroke-width="0.45"/>
<line x1="44.2" y1="378.5" x2="44.2" y2="392" stroke="#333" stroke-width="0.6"/>
<rect x="39.1" y="380.9" width="10.2" height="4.9" fill="#FF0000" stroke="#A01010" stroke-width="0.6"/>
<line x1="39.1" y1="383.3" x2="49.3" y2="383.3" stroke="#A01010" stroke-width="0.7"/>
<circle cx="44.2" cy="378.5" r="1.4" fill="#DC143C" stroke="#000" stroke-width="0.45"/>
<circle cx="44.2" cy="383.2" r="1.4" fill="#F8E0E0" stroke="#000" stroke-width="0.45"/>
<circle cx="44.2" cy="392" r="1.4" fill="#DC143C" stroke="#000" stroke-width="0.45"/>
<line x1="62.9" y1="397" x2="62.9" y2="398" stroke="#333" stroke-width="0.6"/>
<rect x="57.8" y="397.2" width="10.2" height="0.6" fill="#4D4D4D" stroke="#555" stroke-width="0.6"/>
<line x1="57.8" y1="397.5" x2="68.0" y2="397.5" stroke="#555" stroke-width="0.7"/>
<circle cx="62.9" cy="396.8" r="1.4" fill="#A010B0" stroke="#000" stroke-width="0.45"/>
<circle cx="62.9" cy="398.2" r="1.4" fill="#F8E890" stroke="#000" stroke-width="0.45"/>
<line x1="74.1" y1="397.6" x2="74.1" y2="398" stroke="#333" stroke-width="0.6"/>
<rect x="69.0" y="397.6" width="10.2" height="0.6" fill="#FF0000" stroke="#A01010" stroke-width="0.6"/>
<line x1="69.0" y1="397.8" x2="79.2" y2="397.8" stroke="#A01010" stroke-width="0.7"/>
<circle cx="74.1" cy="398" r="1.4" fill="#1030C0" stroke="#000" stroke-width="0.45"/>
<line x1="92.8" y1="396.2" x2="92.8" y2="397.8" stroke="#333" stroke-width="0.6"/>
<rect x="87.7" y="396.4" width="10.2" height="1.0" fill="#4D4D4D" stroke="#555" stroke-width="0.6"/>
<line x1="87.7" y1="396.8" x2="97.9" y2="396.8" stroke="#555" stroke-width="0.7"/>
<circle cx="92.8" cy="396.2" r="1.4" fill="#3EE3A6" stroke="#000" stroke-width="0.45"/>
<circle cx="92.8" cy="397.6" r="1.4" fill="#D010D0" stroke="#000" stroke-width="0.45"/>
<line x1="104.0" y1="396" x2="104.0" y2="398" stroke="#333" stroke-width="0.6"/>
<rect x="98.9" y="396.8" width="10.2" height="0.8" fill="#FF0000" stroke="#A01010" stroke-width="0.6"/>
<line x1="98.9" y1="397.2" x2="109.1" y2="397.2" stroke="#A01010" stroke-width="0.7"/>
<circle cx="104.0" cy="396" r="1.4" fill="#F4A8B0" stroke="#000" stroke-width="0.45"/>
<circle cx="104.0" cy="397.6" r="1.4" fill="#000070" stroke="#000" stroke-width="0.45"/>
<line x1="122.7" y1="353.4" x2="122.7" y2="373.7" stroke="#333" stroke-width="0.6"/>
<rect x="117.6" y="356" width="10.2" height="10.8" fill="#4D4D4D" stroke="#555" stroke-width="0.6"/>
<line x1="117.6" y1="358" x2="127.8" y2="358" stroke="#555" stroke-width="0.7"/>
<circle cx="122.7" cy="353.4" r="1.4" fill="#D010D0" stroke="#000" stroke-width="0.45"/>
<circle cx="122.7" cy="357.6" r="1.4" fill="#F8E060" stroke="#000" stroke-width="0.45"/>
<circle cx="122.7" cy="373.7" r="1.4" fill="#D010D0" stroke="#000" stroke-width="0.45"/>
<line x1="133.9" y1="320.8" x2="133.9" y2="373.7" stroke="#333" stroke-width="0.6"/>
<rect x="128.8" y="333.1" width="10.2" height="34.4" fill="#FF0000" stroke="#A01010" stroke-width="0.6"/>
<line x1="128.8" y1="350.4" x2="139.0" y2="350.4" stroke="#A01010" stroke-width="0.7"/>
<circle cx="133.9" cy="320.8" r="1.4" fill="#2EE02E" stroke="#000" stroke-width="0.45"/>
<circle cx="133.9" cy="337.6" r="1.4" fill="#D010D0" stroke="#000" stroke-width="0.45"/>
<circle cx="133.9" cy="344.5" r="1.4" fill="#F0A060" stroke="#000" stroke-width="0.45"/>
<circle cx="133.9" cy="358" r="1.4" fill="#DC143C" stroke="#000" stroke-width="0.45"/>
<circle cx="133.9" cy="365.4" r="1.4" fill="#F8E0E0" stroke="#000" stroke-width="0.45"/>
<circle cx="133.9" cy="373.7" r="1.4" fill="#000070" stroke="#000" stroke-width="0.45"/>
<line x1="152.6" y1="327.9" x2="152.6" y2="365.7" stroke="#333" stroke-width="0.6"/>
<rect x="147.5" y="346" width="10.2" height="19.7" fill="#4D4D4D" stroke="#555" stroke-width="0.6"/>
<line x1="147.5" y1="359" x2="157.7" y2="359" stroke="#555" stroke-width="0.7"/>
<circle cx="152.6" cy="327.9" r="1.4" fill="#D010D0" stroke="#000" stroke-width="0.45"/>
<circle cx="152.6" cy="364" r="1.4" fill="#F8E060" stroke="#000" stroke-width="0.45"/>
<circle cx="152.6" cy="366.5" r="1.4" fill="#D010D0" stroke="#000" stroke-width="0.45"/>
<line x1="163.8" y1="335.3" x2="163.8" y2="397.6" stroke="#333" stroke-width="0.6"/>
<rect x="158.7" y="343.8" width="10.2" height="39.7" fill="#FF0000" stroke="#A01010" stroke-width="0.6"/>
<line x1="158.7" y1="368" x2="168.9" y2="368" stroke="#A01010" stroke-width="0.7"/>
<circle cx="163.8" cy="335.3" r="1.4" fill="#D010D0" stroke="#000" stroke-width="0.45"/>
<circle cx="163.8" cy="341.5" r="1.4" fill="#DC143C" stroke="#000" stroke-width="0.45"/>
<circle cx="163.8" cy="344" r="1.4" fill="#D010D0" stroke="#000" stroke-width="0.45"/>
<circle cx="163.8" cy="367" r="1.4" fill="#F8E0E0" stroke="#000" stroke-width="0.45"/>
<circle cx="163.8" cy="369" r="1.4" fill="#F0A060" stroke="#000" stroke-width="0.45"/>
<circle cx="163.8" cy="384" r="1.4" fill="#2EE02E" stroke="#000" stroke-width="0.45"/>
<circle cx="163.8" cy="392" r="1.4" fill="#118811" stroke="#000" stroke-width="0.45"/>
<circle cx="163.8" cy="397.6" r="1.4" fill="#000070" stroke="#000" stroke-width="0.45"/>
<text x="38.9" y="319.0" font-size="5.6" text-anchor="middle" fill="#000" stroke="#000" stroke-width="0.22" >NS</text>
<text x="68.8" y="319.0" font-size="5.6" text-anchor="middle" fill="#000" stroke="#000" stroke-width="0.22" >NS</text>
<text x="98.7" y="319.0" font-size="5.6" text-anchor="middle" fill="#000" stroke="#000" stroke-width="0.22" >NS</text>
<text x="129.7" y="319.0" font-size="5.6" text-anchor="middle" fill="#000" stroke="#000" stroke-width="0.22" >FDR = 0.07</text>
<text x="155.3" y="324.5" font-size="5.6" text-anchor="middle" fill="#000" stroke="#000" stroke-width="0.22" transform="rotate(-15 155.3 324.5)">FDR = 3.83×10⁻⁴</text>
<rect x="20.5" y="312.9" width="155.6" height="89.4" fill="none" stroke="#555" stroke-width="1"/>
<rect x="190.5" y="312.9" width="35.3" height="89.4" fill="#F9D9D7"/>
<rect x="225.8" y="312.9" width="56.7" height="89.4" fill="#D9EDF5"/>
<rect x="282.5" y="312.9" width="64.1" height="89.4" fill="#F9D9D7"/>
<text x="271.4" y="309.7" font-size="7.8" text-anchor="middle" fill="#000" stroke="#000" stroke-width="0.22" >Macro.GRK2</text>
<line x1="187.9" y1="330.4" x2="190.5" y2="330.4" stroke="#333" stroke-width="0.6"/>
<text x="186.1" y="332.6" font-size="6.4" text-anchor="end" fill="#222" stroke="#222" stroke-width="0.22" >2.0</text>
<line x1="187.9" y1="347.2" x2="190.5" y2="347.2" stroke="#333" stroke-width="0.6"/>
<text x="186.1" y="349.4" font-size="6.4" text-anchor="end" fill="#222" stroke="#222" stroke-width="0.22" >1.5</text>
<line x1="187.9" y1="364.2" x2="190.5" y2="364.2" stroke="#333" stroke-width="0.6"/>
<text x="186.1" y="366.4" font-size="6.4" text-anchor="end" fill="#222" stroke="#222" stroke-width="0.22" >1.0</text>
<line x1="187.9" y1="381.2" x2="190.5" y2="381.2" stroke="#333" stroke-width="0.6"/>
<text x="186.1" y="383.4" font-size="6.4" text-anchor="end" fill="#222" stroke="#222" stroke-width="0.22" >0.5</text>
<line x1="187.9" y1="398.3" x2="190.5" y2="398.3" stroke="#333" stroke-width="0.6"/>
<text x="186.1" y="400.5" font-size="6.4" text-anchor="end" fill="#222" stroke="#222" stroke-width="0.22" >0.0</text>
<line x1="208.9" y1="402.3" x2="208.9" y2="404.90000000000003" stroke="#333" stroke-width="0.6"/>
<line x1="238.8" y1="402.3" x2="238.8" y2="404.90000000000003" stroke="#333" stroke-width="0.6"/>
<line x1="268.7" y1="402.3" x2="268.7" y2="404.90000000000003" stroke="#333" stroke-width="0.6"/>
<line x1="298.6" y1="402.3" x2="298.6" y2="404.90000000000003" stroke="#333" stroke-width="0.6"/>
<line x1="328.5" y1="402.3" x2="328.5" y2="404.90000000000003" stroke="#333" stroke-width="0.6"/>
<line x1="203.0" y1="368" x2="203.0" y2="394.3" stroke="#333" stroke-width="0.6"/>
<rect x="197.9" y="379.1" width="10.2" height="13.6" fill="#4D4D4D" stroke="#555" stroke-width="0.6"/>
<line x1="197.9" y1="389" x2="208.1" y2="389" stroke="#555" stroke-width="0.7"/>
<circle cx="203.0" cy="368" r="1.4" fill="#6B6B00" stroke="#000" stroke-width="0.45"/>
<circle cx="203.0" cy="390.5" r="1.4" fill="#F4A8B0" stroke="#000" stroke-width="0.45"/>
<circle cx="203.0" cy="393.2" r="1.4" fill="#D010D0" stroke="#000" stroke-width="0.45"/>
<line x1="214.2" y1="390.4" x2="214.2" y2="396.7" stroke="#333" stroke-width="0.6"/>
<rect x="209.1" y="390.4" width="10.2" height="6.3" fill="#FF0000" stroke="#A01010" stroke-width="0.6"/>
<line x1="209.1" y1="393" x2="219.3" y2="393" stroke="#A01010" stroke-width="0.7"/>
<circle cx="214.2" cy="380.4" r="1.4" fill="#DC143C" stroke="#000" stroke-width="0.45"/>
<circle cx="214.2" cy="392" r="1.4" fill="#D010D0" stroke="#000" stroke-width="0.45"/>
<circle cx="214.2" cy="396.5" r="1.4" fill="#F4A8B0" stroke="#000" stroke-width="0.45"/>
<line x1="232.9" y1="397.6" x2="232.9" y2="398" stroke="#333" stroke-width="0.6"/>
<rect x="227.8" y="397.6" width="10.2" height="0.6" fill="#4D4D4D" stroke="#555" stroke-width="0.6"/>
<line x1="227.8" y1="397.8" x2="238.0" y2="397.8" stroke="#555" stroke-width="0.7"/>
<circle cx="232.9" cy="397.5" r="1.4" fill="#D010D0" stroke="#000" stroke-width="0.45"/>
<line x1="244.1" y1="397.6" x2="244.1" y2="398" stroke="#333" stroke-width="0.6"/>
<rect x="239.0" y="397.6" width="10.2" height="0.6" fill="#FF0000" stroke="#A01010" stroke-width="0.6"/>
<line x1="239.0" y1="397.8" x2="249.2" y2="397.8" stroke="#A01010" stroke-width="0.7"/>
<circle cx="244.1" cy="397.8" r="1.4" fill="#2EE02E" stroke="#000" stroke-width="0.45"/>
<line x1="262.8" y1="396" x2="262.8" y2="397.4" stroke="#333" stroke-width="0.6"/>
<rect x="257.7" y="396.2" width="10.2" height="0.8" fill="#4D4D4D" stroke="#555" stroke-width="0.6"/>
<line x1="257.7" y1="396.6" x2="267.9" y2="396.6" stroke="#555" stroke-width="0.7"/>
<circle cx="262.8" cy="396.2" r="1.4" fill="#3EE3A6" stroke="#000" stroke-width="0.45"/>
<circle cx="262.8" cy="397.6" r="1.4" fill="#D010D0" stroke="#000" stroke-width="0.45"/>
<line x1="274.0" y1="393.5" x2="274.0" y2="398" stroke="#333" stroke-width="0.6"/>
<rect x="268.9" y="396.5" width="10.2" height="0.7" fill="#FF0000" stroke="#A01010" stroke-width="0.6"/>
<line x1="268.9" y1="396.8" x2="279.1" y2="396.8" stroke="#A01010" stroke-width="0.7"/>
<circle cx="274.0" cy="393.5" r="1.4" fill="#118811" stroke="#000" stroke-width="0.45"/>
<circle cx="274.0" cy="396.5" r="1.4" fill="#1030C0" stroke="#000" stroke-width="0.45"/>
<line x1="292.7" y1="320.7" x2="292.7" y2="385.6" stroke="#333" stroke-width="0.6"/>
<rect x="287.6" y="342.3" width="10.2" height="32.3" fill="#4D4D4D" stroke="#555" stroke-width="0.6"/>
<line x1="287.6" y1="364.1" x2="297.8" y2="364.1" stroke="#555" stroke-width="0.7"/>
<circle cx="292.7" cy="320.7" r="1.4" fill="#D010D0" stroke="#000" stroke-width="0.45"/>
<circle cx="292.7" cy="364.1" r="1.4" fill="#F8E060" stroke="#000" stroke-width="0.45"/>
<circle cx="292.7" cy="385.6" r="1.4" fill="#D010D0" stroke="#000" stroke-width="0.45"/>
<line x1="303.9" y1="380.9" x2="303.9" y2="395" stroke="#333" stroke-width="0.6"/>
<rect x="298.8" y="380.9" width="10.2" height="10.5" fill="#FF0000" stroke="#A01010" stroke-width="0.6"/>
<line x1="298.8" y1="385.5" x2="309.0" y2="385.5" stroke="#A01010" stroke-width="0.7"/>
<circle cx="303.9" cy="331" r="2.0" fill="#DC143C" stroke="#000" stroke-width="0.7"/>
<circle cx="303.9" cy="380.5" r="1.4" fill="#2EE02E" stroke="#000" stroke-width="0.45"/>
<circle cx="303.9" cy="385.5" r="1.4" fill="#F8E0E0" stroke="#000" stroke-width="0.45"/>
<circle cx="303.9" cy="388.5" r="1.4" fill="#118811" stroke="#000" stroke-width="0.45"/>
<circle cx="303.9" cy="392" r="1.4" fill="#D010D0" stroke="#000" stroke-width="0.45"/>
<circle cx="303.9" cy="395" r="1.4" fill="#000070" stroke="#000" stroke-width="0.45"/>
<line x1="322.6" y1="378.6" x2="322.6" y2="393" stroke="#333" stroke-width="0.6"/>
<rect x="317.5" y="382.2" width="10.2" height="6.6" fill="#4D4D4D" stroke="#555" stroke-width="0.6"/>
<line x1="317.5" y1="386" x2="327.7" y2="386" stroke="#555" stroke-width="0.7"/>
<circle cx="322.6" cy="378.6" r="1.4" fill="#D010D0" stroke="#000" stroke-width="0.45"/>
<circle cx="322.6" cy="386" r="1.4" fill="#F8E060" stroke="#000" stroke-width="0.45"/>
<circle cx="322.6" cy="393" r="1.4" fill="#D010D0" stroke="#000" stroke-width="0.45"/>
<line x1="333.8" y1="390.1" x2="333.8" y2="397" stroke="#333" stroke-width="0.6"/>
<rect x="328.7" y="390.1" width="10.2" height="2.6" fill="#FF0000" stroke="#A01010" stroke-width="0.6"/>
<line x1="328.7" y1="391.5" x2="338.9" y2="391.5" stroke="#A01010" stroke-width="0.7"/>
<circle cx="333.8" cy="349.4" r="2.0" fill="#DC143C" stroke="#000" stroke-width="0.7"/>
<circle cx="333.8" cy="390" r="1.4" fill="#118811" stroke="#000" stroke-width="0.45"/>
<circle cx="333.8" cy="392.4" r="1.4" fill="#F4A8B0" stroke="#000" stroke-width="0.45"/>
<circle cx="333.8" cy="397" r="1.4" fill="#2EE02E" stroke="#000" stroke-width="0.45"/>
<text x="208.9" y="319.0" font-size="5.6" text-anchor="middle" fill="#000" stroke="#000" stroke-width="0.22" >NS</text>
<text x="238.8" y="319.0" font-size="5.6" text-anchor="middle" fill="#000" stroke="#000" stroke-width="0.22" >NS</text>
<text x="268.7" y="319.0" font-size="5.6" text-anchor="middle" fill="#000" stroke="#000" stroke-width="0.22" >NS</text>
<text x="328.5" y="319.0" font-size="5.6" text-anchor="middle" fill="#000" stroke="#000" stroke-width="0.22" >NS</text>
<text x="298.3" y="319.0" font-size="5.6" text-anchor="middle" fill="#000" stroke="#000" stroke-width="0.22" >FDR = 0.04</text>
<rect x="190.5" y="312.9" width="156.1" height="89.4" fill="none" stroke="#555" stroke-width="1"/>
<rect x="359.2" y="312.9" width="35.3" height="89.4" fill="#F9D9D7"/>
<rect x="394.5" y="312.9" width="56.7" height="89.4" fill="#D9EDF5"/>
<rect x="451.2" y="312.9" width="63.5" height="89.4" fill="#F9D9D7"/>
<text x="439.9" y="309.7" font-size="7.8" text-anchor="middle" fill="#000" stroke="#000" stroke-width="0.22" >Mono.FOLR3</text>
<line x1="356.59999999999997" y1="320.0" x2="359.2" y2="320.0" stroke="#333" stroke-width="0.6"/>
<text x="354.8" y="322.2" font-size="6.4" text-anchor="end" fill="#222" stroke="#222" stroke-width="0.22" >30</text>
<line x1="356.59999999999997" y1="346.2" x2="359.2" y2="346.2" stroke="#333" stroke-width="0.6"/>
<text x="354.8" y="348.4" font-size="6.4" text-anchor="end" fill="#222" stroke="#222" stroke-width="0.22" >20</text>
<line x1="356.59999999999997" y1="372.5" x2="359.2" y2="372.5" stroke="#333" stroke-width="0.6"/>
<text x="354.8" y="374.7" font-size="6.4" text-anchor="end" fill="#222" stroke="#222" stroke-width="0.22" >10</text>
<line x1="356.59999999999997" y1="398.3" x2="359.2" y2="398.3" stroke="#333" stroke-width="0.6"/>
<text x="354.8" y="400.5" font-size="6.4" text-anchor="end" fill="#222" stroke="#222" stroke-width="0.22" >0</text>
<line x1="377.6" y1="402.3" x2="377.6" y2="404.90000000000003" stroke="#333" stroke-width="0.6"/>
<line x1="407.5" y1="402.3" x2="407.5" y2="404.90000000000003" stroke="#333" stroke-width="0.6"/>
<line x1="437.4" y1="402.3" x2="437.4" y2="404.90000000000003" stroke="#333" stroke-width="0.6"/>
<line x1="467.3" y1="402.3" x2="467.3" y2="404.90000000000003" stroke="#333" stroke-width="0.6"/>
<line x1="497.2" y1="402.3" x2="497.2" y2="404.90000000000003" stroke="#333" stroke-width="0.6"/>
<line x1="371.7" y1="387.5" x2="371.7" y2="397" stroke="#333" stroke-width="0.6"/>
<rect x="366.6" y="388.3" width="10.2" height="4.4" fill="#4D4D4D" stroke="#555" stroke-width="0.6"/>
<line x1="366.6" y1="390.5" x2="376.8" y2="390.5" stroke="#555" stroke-width="0.7"/>
<circle cx="371.7" cy="387.8" r="1.4" fill="#F4A8B0" stroke="#000" stroke-width="0.45"/>
<circle cx="371.7" cy="390.8" r="1.4" fill="#D010D0" stroke="#000" stroke-width="0.45"/>
<circle cx="371.7" cy="397" r="1.4" fill="#6B6B00" stroke="#000" stroke-width="0.45"/>
<line x1="382.9" y1="375.9" x2="382.9" y2="394" stroke="#333" stroke-width="0.6"/>
<rect x="377.8" y="375.9" width="10.2" height="13.7" fill="#FF0000" stroke="#A01010" stroke-width="0.6"/>
<line x1="377.8" y1="387" x2="388.0" y2="387" stroke="#A01010" stroke-width="0.7"/>
<circle cx="382.9" cy="341" r="2.0" fill="#DC143C" stroke="#000" stroke-width="0.7"/>
<circle cx="382.9" cy="388" r="1.4" fill="#F8E0E0" stroke="#000" stroke-width="0.45"/>
<circle cx="382.9" cy="394" r="1.4" fill="#DC143C" stroke="#000" stroke-width="0.45"/>
<line x1="401.6" y1="397.6" x2="401.6" y2="398" stroke="#333" stroke-width="0.6"/>
<rect x="396.5" y="397.6" width="10.2" height="0.6" fill="#4D4D4D" stroke="#555" stroke-width="0.6"/>
<line x1="396.5" y1="397.8" x2="406.7" y2="397.8" stroke="#555" stroke-width="0.7"/>
<circle cx="401.6" cy="397.5" r="1.4" fill="#D010D0" stroke="#000" stroke-width="0.45"/>
<line x1="412.8" y1="397.6" x2="412.8" y2="398" stroke="#333" stroke-width="0.6"/>
<rect x="407.7" y="397.6" width="10.2" height="0.6" fill="#FF0000" stroke="#A01010" stroke-width="0.6"/>
<line x1="407.7" y1="397.8" x2="417.9" y2="397.8" stroke="#A01010" stroke-width="0.7"/>
<circle cx="412.8" cy="398" r="1.4" fill="#DC143C" stroke="#000" stroke-width="0.45"/>
<line x1="442.7" y1="397.2" x2="442.7" y2="398" stroke="#333" stroke-width="0.6"/>
<rect x="437.6" y="397.2" width="10.2" height="0.8" fill="#FF0000" stroke="#A01010" stroke-width="0.6"/>
<line x1="437.6" y1="397.6" x2="447.8" y2="397.6" stroke="#A01010" stroke-width="0.7"/>
<circle cx="442.7" cy="397.3" r="1.4" fill="#2EE02E" stroke="#000" stroke-width="0.45"/>
<circle cx="442.7" cy="397.9" r="1.4" fill="#F8E890" stroke="#000" stroke-width="0.45"/>
<line x1="461.4" y1="381.2" x2="461.4" y2="394" stroke="#333" stroke-width="0.6"/>
<rect x="456.3" y="386.4" width="10.2" height="7.6" fill="#4D4D4D" stroke="#555" stroke-width="0.6"/>
<line x1="456.3" y1="390" x2="466.5" y2="390" stroke="#555" stroke-width="0.7"/>
<circle cx="461.4" cy="381.2" r="1.4" fill="#D010D0" stroke="#000" stroke-width="0.45"/>
<circle cx="461.4" cy="389.5" r="1.4" fill="#D010D0" stroke="#000" stroke-width="0.45"/>
<circle cx="461.4" cy="393" r="1.4" fill="#F8E890" stroke="#000" stroke-width="0.45"/>
<line x1="472.6" y1="340.2" x2="472.6" y2="395.5" stroke="#333" stroke-width="0.6"/>
<rect x="467.5" y="372.5" width="10.2" height="21.8" fill="#FF0000" stroke="#A01010" stroke-width="0.6"/>
<line x1="467.5" y1="390.9" x2="477.7" y2="390.9" stroke="#A01010" stroke-width="0.7"/>
<circle cx="472.6" cy="340.2" r="1.4" fill="#000070" stroke="#000" stroke-width="0.45"/>
<circle cx="472.6" cy="356.2" r="1.4" fill="#DC143C" stroke="#000" stroke-width="0.45"/>
<circle cx="472.6" cy="388" r="1.4" fill="#D010D0" stroke="#000" stroke-width="0.45"/>
<circle cx="472.6" cy="391" r="1.4" fill="#F8E0E0" stroke="#000" stroke-width="0.45"/>
<circle cx="472.6" cy="393" r="1.4" fill="#2EE02E" stroke="#000" stroke-width="0.45"/>
<circle cx="472.6" cy="395.5" r="1.4" fill="#118811" stroke="#000" stroke-width="0.45"/>
<line x1="491.3" y1="364.1" x2="491.3" y2="391.7" stroke="#333" stroke-width="0.6"/>
<rect x="486.2" y="378" width="10.2" height="13.7" fill="#4D4D4D" stroke="#555" stroke-width="0.6"/>
<line x1="486.2" y1="391" x2="496.4" y2="391" stroke="#555" stroke-width="0.7"/>
<circle cx="491.3" cy="364.1" r="1.4" fill="#D010D0" stroke="#000" stroke-width="0.45"/>
<circle cx="491.3" cy="391.2" r="1.4" fill="#F8E890" stroke="#000" stroke-width="0.45"/>
<line x1="502.5" y1="320.7" x2="502.5" y2="395" stroke="#333" stroke-width="0.6"/>
<rect x="497.4" y="354.9" width="10.2" height="36.8" fill="#FF0000" stroke="#A01010" stroke-width="0.6"/>
<line x1="497.4" y1="370.4" x2="507.6" y2="370.4" stroke="#A01010" stroke-width="0.7"/>
<circle cx="502.5" cy="320.7" r="1.4" fill="#DC143C" stroke="#000" stroke-width="0.45"/>
<circle cx="502.5" cy="342.3" r="1.4" fill="#D010D0" stroke="#000" stroke-width="0.45"/>
<circle cx="502.5" cy="368" r="1.4" fill="#2EE02E" stroke="#000" stroke-width="0.45"/>
<circle cx="502.5" cy="370.5" r="1.4" fill="#F8E890" stroke="#000" stroke-width="0.45"/>
<circle cx="502.5" cy="391" r="1.4" fill="#D010D0" stroke="#000" stroke-width="0.45"/>
<circle cx="502.5" cy="395" r="1.4" fill="#118811" stroke="#000" stroke-width="0.45"/>
<text x="377.4" y="319.0" font-size="5.6" text-anchor="middle" fill="#000" stroke="#000" stroke-width="0.22" >FDR = 0.02</text>
<text x="407.5" y="319.0" font-size="5.6" text-anchor="middle" fill="#000" stroke="#000" stroke-width="0.22" >NS</text>
<text x="437.4" y="319.0" font-size="5.6" text-anchor="middle" fill="#000" stroke="#000" stroke-width="0.22" >NS</text>
<text x="467.1" y="319.0" font-size="5.6" text-anchor="middle" fill="#000" stroke="#000" stroke-width="0.22" >FDR = 0.04</text>
<text x="496.1" y="319.0" font-size="5.6" text-anchor="middle" fill="#000" stroke="#000" stroke-width="0.22" >FDR = 0.02</text>
<rect x="359.2" y="312.9" width="155.5" height="89.4" fill="none" stroke="#555" stroke-width="1"/>
<rect x="529.2" y="312.9" width="35.3" height="89.4" fill="#F9D9D7"/>
<rect x="564.5" y="312.9" width="56.7" height="89.4" fill="#D9EDF5"/>
<rect x="621.2" y="312.9" width="63.3" height="89.4" fill="#F9D9D7"/>
<text x="609.8" y="309.7" font-size="7.8" text-anchor="middle" fill="#000" stroke="#000" stroke-width="0.22" >Mono.ISG15</text>
<line x1="526.6" y1="316.0" x2="529.2" y2="316.0" stroke="#333" stroke-width="0.6"/>
<text x="524.8" y="318.2" font-size="6.4" text-anchor="end" fill="#222" stroke="#222" stroke-width="0.22" >20</text>
<line x1="526.6" y1="336.6" x2="529.2" y2="336.6" stroke="#333" stroke-width="0.6"/>
<text x="524.8" y="338.8" font-size="6.4" text-anchor="end" fill="#222" stroke="#222" stroke-width="0.22" >15</text>
<line x1="526.6" y1="357.3" x2="529.2" y2="357.3" stroke="#333" stroke-width="0.6"/>
<text x="524.8" y="359.5" font-size="6.4" text-anchor="end" fill="#222" stroke="#222" stroke-width="0.22" >10</text>
<line x1="526.6" y1="377.8" x2="529.2" y2="377.8" stroke="#333" stroke-width="0.6"/>
<text x="524.8" y="380.0" font-size="6.4" text-anchor="end" fill="#222" stroke="#222" stroke-width="0.22" >5</text>
<line x1="526.6" y1="398.3" x2="529.2" y2="398.3" stroke="#333" stroke-width="0.6"/>
<text x="524.8" y="400.5" font-size="6.4" text-anchor="end" fill="#222" stroke="#222" stroke-width="0.22" >0</text>
<line x1="547.6" y1="402.3" x2="547.6" y2="404.90000000000003" stroke="#333" stroke-width="0.6"/>
<line x1="577.5" y1="402.3" x2="577.5" y2="404.90000000000003" stroke="#333" stroke-width="0.6"/>
<line x1="607.4" y1="402.3" x2="607.4" y2="404.90000000000003" stroke="#333" stroke-width="0.6"/>
<line x1="637.3" y1="402.3" x2="637.3" y2="404.90000000000003" stroke="#333" stroke-width="0.6"/>
<line x1="667.2" y1="402.3" x2="667.2" y2="404.90000000000003" stroke="#333" stroke-width="0.6"/>
<line x1="541.7" y1="392" x2="541.7" y2="397" stroke="#333" stroke-width="0.6"/>
<rect x="536.6" y="393.8" width="10.2" height="1.0" fill="#4D4D4D" stroke="#555" stroke-width="0.6"/>
<line x1="536.6" y1="394.3" x2="546.8" y2="394.3" stroke="#555" stroke-width="0.7"/>
<circle cx="541.7" cy="392" r="1.4" fill="#F8E890" stroke="#000" stroke-width="0.45"/>
<circle cx="541.7" cy="395" r="1.4" fill="#6B6B00" stroke="#000" stroke-width="0.45"/>
<circle cx="541.7" cy="397" r="1.4" fill="#6B6B00" stroke="#000" stroke-width="0.45"/>
<line x1="552.9" y1="382.5" x2="552.9" y2="394.8" stroke="#333" stroke-width="0.6"/>
<rect x="547.8" y="382.5" width="10.2" height="7.6" fill="#FF0000" stroke="#A01010" stroke-width="0.6"/>
<line x1="547.8" y1="386" x2="558.0" y2="386" stroke="#A01010" stroke-width="0.7"/>
<circle cx="552.9" cy="383.5" r="1.4" fill="#F4A8B0" stroke="#000" stroke-width="0.45"/>
<circle cx="552.9" cy="387" r="1.4" fill="#DC143C" stroke="#000" stroke-width="0.45"/>
<circle cx="552.9" cy="394.8" r="1.4" fill="#D010D0" stroke="#000" stroke-width="0.45"/>
<line x1="582.8" y1="397.6" x2="582.8" y2="398" stroke="#333" stroke-width="0.6"/>
<rect x="577.7" y="397.6" width="10.2" height="0.6" fill="#FF0000" stroke="#A01010" stroke-width="0.6"/>
<line x1="577.7" y1="397.8" x2="587.9" y2="397.8" stroke="#A01010" stroke-width="0.7"/>
<circle cx="582.8" cy="398" r="1.4" fill="#DC143C" stroke="#000" stroke-width="0.45"/>
<line x1="601.5" y1="397.6" x2="601.5" y2="398" stroke="#333" stroke-width="0.6"/>
<rect x="596.4" y="397.6" width="10.2" height="0.6" fill="#4D4D4D" stroke="#555" stroke-width="0.6"/>
<line x1="596.4" y1="397.8" x2="606.6" y2="397.8" stroke="#555" stroke-width="0.7"/>
<circle cx="601.5" cy="398" r="1.4" fill="#3EE3A6" stroke="#000" stroke-width="0.45"/>
<line x1="612.7" y1="397.6" x2="612.7" y2="398" stroke="#333" stroke-width="0.6"/>
<rect x="607.6" y="397.6" width="10.2" height="0.6" fill="#FF0000" stroke="#A01010" stroke-width="0.6"/>
<line x1="607.6" y1="397.8" x2="617.8" y2="397.8" stroke="#A01010" stroke-width="0.7"/>
<circle cx="612.7" cy="397.6" r="1.4" fill="#000070" stroke="#000" stroke-width="0.45"/>
<line x1="631.4" y1="380.4" x2="631.4" y2="387.5" stroke="#333" stroke-width="0.6"/>
<rect x="626.3" y="380.4" width="10.2" height="3.9" fill="#4D4D4D" stroke="#555" stroke-width="0.6"/>
<line x1="626.3" y1="382" x2="636.5" y2="382" stroke="#555" stroke-width="0.7"/>
<circle cx="631.4" cy="380.4" r="1.4" fill="#D010D0" stroke="#000" stroke-width="0.45"/>
<circle cx="631.4" cy="383" r="1.4" fill="#A010B0" stroke="#000" stroke-width="0.45"/>
<circle cx="631.4" cy="387.5" r="1.4" fill="#F8E890" stroke="#000" stroke-width="0.45"/>
<line x1="642.6" y1="365.4" x2="642.6" y2="395" stroke="#333" stroke-width="0.6"/>
<rect x="637.5" y="369.4" width="10.2" height="23.3" fill="#FF0000" stroke="#A01010" stroke-width="0.6"/>
<line x1="637.5" y1="378.6" x2="647.7" y2="378.6" stroke="#A01010" stroke-width="0.7"/>
<circle cx="642.6" cy="321.3" r="2.0" fill="#F0A060" stroke="#000" stroke-width="0.7"/>
<circle cx="642.6" cy="365.4" r="1.4" fill="#000070" stroke="#000" stroke-width="0.45"/>
<circle cx="642.6" cy="369.5" r="1.4" fill="#DC143C" stroke="#000" stroke-width="0.45"/>
<circle cx="642.6" cy="378" r="1.4" fill="#D010D0" stroke="#000" stroke-width="0.45"/>
<circle cx="642.6" cy="385" r="1.4" fill="#DC143C" stroke="#000" stroke-width="0.45"/>
<circle cx="642.6" cy="390.5" r="1.4" fill="#F8E0E0" stroke="#000" stroke-width="0.45"/>
<circle cx="642.6" cy="395" r="1.4" fill="#D010D0" stroke="#000" stroke-width="0.45"/>
<line x1="661.3" y1="364.1" x2="661.3" y2="392.2" stroke="#333" stroke-width="0.6"/>
<rect x="656.2" y="378.3" width="10.2" height="13.9" fill="#4D4D4D" stroke="#555" stroke-width="0.6"/>
<line x1="656.2" y1="391" x2="666.4" y2="391" stroke="#555" stroke-width="0.7"/>
<circle cx="661.3" cy="364.1" r="1.4" fill="#D010D0" stroke="#000" stroke-width="0.45"/>
<circle cx="661.3" cy="391.7" r="1.4" fill="#A010B0" stroke="#000" stroke-width="0.45"/>
<line x1="672.5" y1="366.5" x2="672.5" y2="397" stroke="#333" stroke-width="0.6"/>
<rect x="667.4" y="373.3" width="10.2" height="13.7" fill="#FF0000" stroke="#A01010" stroke-width="0.6"/>
<line x1="667.4" y1="384.3" x2="677.6" y2="384.3" stroke="#A01010" stroke-width="0.7"/>
<circle cx="672.5" cy="366.5" r="1.4" fill="#F0A060" stroke="#000" stroke-width="0.45"/>
<circle cx="672.5" cy="369.5" r="1.4" fill="#DC143C" stroke="#000" stroke-width="0.45"/>
<circle cx="672.5" cy="373.5" r="1.4" fill="#D010D0" stroke="#000" stroke-width="0.45"/>
<circle cx="672.5" cy="378" r="1.4" fill="#F8E0E0" stroke="#000" stroke-width="0.45"/>
<circle cx="672.5" cy="383" r="1.4" fill="#2EE02E" stroke="#000" stroke-width="0.45"/>
<circle cx="672.5" cy="386" r="1.4" fill="#118811" stroke="#000" stroke-width="0.45"/>
<circle cx="672.5" cy="397" r="1.4" fill="#118811" stroke="#000" stroke-width="0.45"/>
<text x="546.8" y="319.0" font-size="5.6" text-anchor="middle" fill="#000" stroke="#000" stroke-width="0.22" >FDR = 0.08</text>
<text x="577.5" y="319.0" font-size="5.6" text-anchor="middle" fill="#000" stroke="#000" stroke-width="0.22" >NS</text>
<text x="607.4" y="319.0" font-size="5.6" text-anchor="middle" fill="#000" stroke="#000" stroke-width="0.22" >NS</text>
<text x="636.1" y="319.0" font-size="5.6" text-anchor="middle" fill="#000" stroke="#000" stroke-width="0.22" >FDR = 0.01</text>
<text x="666.3" y="319.0" font-size="5.6" text-anchor="middle" fill="#000" stroke="#000" stroke-width="0.22" >FDR = 0.03</text>
<rect x="529.2" y="312.9" width="155.3" height="89.4" fill="none" stroke="#555" stroke-width="1"/>
<rect x="20.5" y="419.7" width="35.3" height="88.0" fill="#F9D9D7"/>
<rect x="55.8" y="419.7" width="56.7" height="88.0" fill="#D9EDF5"/>
<rect x="112.5" y="419.7" width="63.6" height="88.0" fill="#F9D9D7"/>
<text x="101.2" y="416.5" font-size="7.8" text-anchor="middle" fill="#000" stroke="#000" stroke-width="0.22" >Mono.CCL5</text>
<line x1="17.9" y1="427.0" x2="20.5" y2="427.0" stroke="#333" stroke-width="0.6"/>
<text x="16.1" y="429.2" font-size="6.4" text-anchor="end" fill="#222" stroke="#222" stroke-width="0.22" >10.0</text>
<line x1="17.9" y1="446.4" x2="20.5" y2="446.4" stroke="#333" stroke-width="0.6"/>
<text x="16.1" y="448.6" font-size="6.4" text-anchor="end" fill="#222" stroke="#222" stroke-width="0.22" >7.5</text>
<line x1="17.9" y1="465.7" x2="20.5" y2="465.7" stroke="#333" stroke-width="0.6"/>
<text x="16.1" y="467.9" font-size="6.4" text-anchor="end" fill="#222" stroke="#222" stroke-width="0.22" >5.0</text>
<line x1="17.9" y1="485.0" x2="20.5" y2="485.0" stroke="#333" stroke-width="0.6"/>
<text x="16.1" y="487.2" font-size="6.4" text-anchor="end" fill="#222" stroke="#222" stroke-width="0.22" >2.5</text>
<line x1="17.9" y1="504.3" x2="20.5" y2="504.3" stroke="#333" stroke-width="0.6"/>
<text x="16.1" y="506.5" font-size="6.4" text-anchor="end" fill="#222" stroke="#222" stroke-width="0.22" >0.0</text>
<line x1="38.9" y1="507.7" x2="38.9" y2="510.3" stroke="#333" stroke-width="0.6"/>
<line x1="68.8" y1="507.7" x2="68.8" y2="510.3" stroke="#333" stroke-width="0.6"/>
<line x1="98.7" y1="507.7" x2="98.7" y2="510.3" stroke="#333" stroke-width="0.6"/>
<line x1="128.6" y1="507.7" x2="128.6" y2="510.3" stroke="#333" stroke-width="0.6"/>
<line x1="158.5" y1="507.7" x2="158.5" y2="510.3" stroke="#333" stroke-width="0.6"/>
<line x1="33.0" y1="480.9" x2="33.0" y2="504.3" stroke="#333" stroke-width="0.6"/>
<rect x="27.9" y="487.5" width="10.2" height="11.8" fill="#4D4D4D" stroke="#555" stroke-width="0.6"/>
<line x1="27.9" y1="491.5" x2="38.1" y2="491.5" stroke="#555" stroke-width="0.7"/>
<circle cx="33.0" cy="480.9" r="1.4" fill="#F4A8B0" stroke="#000" stroke-width="0.45"/>
<circle cx="33.0" cy="487.2" r="1.4" fill="#6B6B00" stroke="#000" stroke-width="0.45"/>
<circle cx="33.0" cy="498.4" r="1.4" fill="#F8E060" stroke="#000" stroke-width="0.45"/>
<circle cx="33.0" cy="504.3" r="1.4" fill="#D010D0" stroke="#000" stroke-width="0.45"/>
<line x1="44.2" y1="461.2" x2="44.2" y2="501.2" stroke="#333" stroke-width="0.6"/>
<rect x="39.1" y="481.4" width="10.2" height="19.8" fill="#FF0000" stroke="#A01010" stroke-width="0.6"/>
<line x1="39.1" y1="494.1" x2="49.3" y2="494.1" stroke="#A01010" stroke-width="0.7"/>
<circle cx="44.2" cy="461.2" r="1.4" fill="#DC143C" stroke="#000" stroke-width="0.45"/>
<circle cx="44.2" cy="487" r="1.4" fill="#D010D0" stroke="#000" stroke-width="0.45"/>
<circle cx="44.2" cy="500.3" r="1.4" fill="#F8E0E0" stroke="#000" stroke-width="0.45"/>
<line x1="104.0" y1="504.3" x2="104.0" y2="504.3" stroke="#333" stroke-width="0.6"/>
<rect x="98.9" y="504.3" width="10.2" height="0.6" fill="#FF0000" stroke="#A01010" stroke-width="0.6"/>
<line x1="98.9" y1="504.3" x2="109.1" y2="504.3" stroke="#A01010" stroke-width="0.7"/>
<circle cx="104.0" cy="504.3" r="1.4" fill="#1030C0" stroke="#000" stroke-width="0.45"/>
<line x1="122.7" y1="472.3" x2="122.7" y2="492.5" stroke="#333" stroke-width="0.6"/>
<rect x="117.6" y="477" width="10.2" height="9.7" fill="#4D4D4D" stroke="#555" stroke-width="0.6"/>
<line x1="117.6" y1="482" x2="127.8" y2="482" stroke="#555" stroke-width="0.7"/>
<circle cx="122.7" cy="472.3" r="1.4" fill="#D010D0" stroke="#000" stroke-width="0.45"/>
<circle cx="122.7" cy="481.8" r="1.4" fill="#D010D0" stroke="#000" stroke-width="0.45"/>
<circle cx="122.7" cy="492.5" r="1.4" fill="#F8E060" stroke="#000" stroke-width="0.45"/>
<line x1="133.9" y1="439.4" x2="133.9" y2="503.3" stroke="#333" stroke-width="0.6"/>
<rect x="128.8" y="473.6" width="10.2" height="26.2" fill="#FF0000" stroke="#A01010" stroke-width="0.6"/>
<line x1="128.8" y1="493.8" x2="139.0" y2="493.8" stroke="#A01010" stroke-width="0.7"/>
<circle cx="133.9" cy="439.4" r="1.4" fill="#D010D0" stroke="#000" stroke-width="0.45"/>
<circle cx="133.9" cy="463" r="1.4" fill="#DC143C" stroke="#000" stroke-width="0.45"/>
<circle cx="133.9" cy="477" r="1.4" fill="#DC143C" stroke="#000" stroke-width="0.45"/>
<circle cx="133.9" cy="491" r="1.4" fill="#118811" stroke="#000" stroke-width="0.45"/>
<circle cx="133.9" cy="493" r="1.4" fill="#D010D0" stroke="#000" stroke-width="0.45"/>
<circle cx="133.9" cy="495.5" r="1.4" fill="#F8E060" stroke="#000" stroke-width="0.45"/>
<circle cx="133.9" cy="498.5" r="1.4" fill="#2EE02E" stroke="#000" stroke-width="0.45"/>
<circle cx="133.9" cy="503.3" r="1.4" fill="#F0A060" stroke="#000" stroke-width="0.45"/>
<line x1="152.6" y1="470.4" x2="152.6" y2="499.3" stroke="#333" stroke-width="0.6"/>
<rect x="147.5" y="474.4" width="10.2" height="13.6" fill="#4D4D4D" stroke="#555" stroke-width="0.6"/>
<line x1="147.5" y1="479" x2="157.7" y2="479" stroke="#555" stroke-width="0.7"/>
<circle cx="152.6" cy="470.4" r="1.4" fill="#F8E060" stroke="#000" stroke-width="0.45"/>
<circle cx="152.6" cy="477.5" r="1.4" fill="#D010D0" stroke="#000" stroke-width="0.45"/>
<circle cx="152.6" cy="499.3" r="1.4" fill="#D010D0" stroke="#000" stroke-width="0.45"/>
<line x1="163.8" y1="427" x2="163.8" y2="502.5" stroke="#333" stroke-width="0.6"/>
<rect x="158.7" y="471" width="10.2" height="30.7" fill="#FF0000" stroke="#A01010" stroke-width="0.6"/>
<line x1="158.7" y1="499.3" x2="168.9" y2="499.3" stroke="#A01010" stroke-width="0.7"/>
<circle cx="163.8" cy="427" r="1.4" fill="#DC143C" stroke="#000" stroke-width="0.45"/>
<circle cx="163.8" cy="455.7" r="1.4" fill="#D010D0" stroke="#000" stroke-width="0.45"/>
<circle cx="163.8" cy="486.2" r="1.4" fill="#F8E0E0" stroke="#000" stroke-width="0.45"/>
<circle cx="163.8" cy="499.5" r="1.4" fill="#F8E060" stroke="#000" stroke-width="0.45"/>
<circle cx="163.8" cy="501" r="1.4" fill="#118811" stroke="#000" stroke-width="0.45"/>
<circle cx="163.8" cy="502.5" r="1.4" fill="#2EE02E" stroke="#000" stroke-width="0.45"/>
<text x="38.9" y="425.8" font-size="5.6" text-anchor="middle" fill="#000" stroke="#000" stroke-width="0.22" >NS</text>
<text x="68.8" y="425.8" font-size="5.6" text-anchor="middle" fill="#000" stroke="#000" stroke-width="0.22" >NS</text>
<text x="98.7" y="425.8" font-size="5.6" text-anchor="middle" fill="#000" stroke="#000" stroke-width="0.22" >NS</text>
<text x="154.3" y="425.8" font-size="5.6" text-anchor="middle" fill="#000" stroke="#000" stroke-width="0.22" >FDR = 8.47×10⁻³</text>
<text x="129.0" y="433.0" font-size="5.6" text-anchor="middle" fill="#000" stroke="#000" stroke-width="0.22" >FDR = 6.41×10⁻³</text>
<rect x="20.5" y="419.7" width="155.6" height="88.0" fill="none" stroke="#555" stroke-width="1"/>
<text x="38.9" y="518.2" font-size="6.9" text-anchor="middle" fill="#1a1a1a" stroke="#1a1a1a" stroke-width="0.22" >Pre−radio</text>
<text x="68.8" y="518.2" font-size="6.9" text-anchor="middle" fill="#1a1a1a" stroke="#1a1a1a" stroke-width="0.22" >Pre−radio</text>
<text x="98.7" y="518.2" font-size="6.9" text-anchor="middle" fill="#1a1a1a" stroke="#1a1a1a" stroke-width="0.22" >On−radio</text>
<text x="128.6" y="518.2" font-size="6.9" text-anchor="middle" fill="#1a1a1a" stroke="#1a1a1a" stroke-width="0.22" >Pre−imm</text>
<text x="158.5" y="518.2" font-size="6.9" text-anchor="middle" fill="#1a1a1a" stroke="#1a1a1a" stroke-width="0.22" >On−imm</text>
<rect x="20.5" y="519.2" width="35.3" height="5.3" fill="#E85540"/>
<rect x="55.8" y="519.2" width="56.7" height="5.3" fill="#4CB9D9"/>
<rect x="112.5" y="519.2" width="63.6" height="5.3" fill="#E85540"/>
<text x="38.9" y="524.1" font-size="6.9" text-anchor="middle" fill="#1a1a1a" stroke="#1a1a1a" stroke-width="0.22" >PBMC</text>
<text x="68.8" y="524.1" font-size="6.9" text-anchor="middle" fill="#1a1a1a" stroke="#1a1a1a" stroke-width="0.22" >tumor</text>
<text x="98.7" y="524.1" font-size="6.9" text-anchor="middle" fill="#1a1a1a" stroke="#1a1a1a" stroke-width="0.22" >tumor</text>
<text x="128.6" y="524.1" font-size="6.9" text-anchor="middle" fill="#1a1a1a" stroke="#1a1a1a" stroke-width="0.22" >PBMC</text>
<text x="158.5" y="524.1" font-size="6.9" text-anchor="middle" fill="#1a1a1a" stroke="#1a1a1a" stroke-width="0.22" >PBMC</text>
<rect x="190.5" y="419.7" width="35.3" height="88.0" fill="#F9D9D7"/>
<rect x="225.8" y="419.7" width="56.7" height="88.0" fill="#D9EDF5"/>
<rect x="282.5" y="419.7" width="64.1" height="88.0" fill="#F9D9D7"/>
<text x="271.4" y="416.5" font-size="7.8" text-anchor="middle" fill="#000" stroke="#000" stroke-width="0.22" >Mono.LY96</text>
<line x1="187.9" y1="427.6" x2="190.5" y2="427.6" stroke="#333" stroke-width="0.6"/>
<text x="186.1" y="429.8" font-size="6.4" text-anchor="end" fill="#222" stroke="#222" stroke-width="0.22" >40</text>
<line x1="187.9" y1="446.8" x2="190.5" y2="446.8" stroke="#333" stroke-width="0.6"/>
<text x="186.1" y="449.0" font-size="6.4" text-anchor="end" fill="#222" stroke="#222" stroke-width="0.22" >30</text>
<line x1="187.9" y1="466.1" x2="190.5" y2="466.1" stroke="#333" stroke-width="0.6"/>
<text x="186.1" y="468.3" font-size="6.4" text-anchor="end" fill="#222" stroke="#222" stroke-width="0.22" >20</text>
<line x1="187.9" y1="485.3" x2="190.5" y2="485.3" stroke="#333" stroke-width="0.6"/>
<text x="186.1" y="487.5" font-size="6.4" text-anchor="end" fill="#222" stroke="#222" stroke-width="0.22" >10</text>
<line x1="187.9" y1="504.6" x2="190.5" y2="504.6" stroke="#333" stroke-width="0.6"/>
<text x="186.1" y="506.8" font-size="6.4" text-anchor="end" fill="#222" stroke="#222" stroke-width="0.22" >0</text>
<line x1="208.9" y1="507.7" x2="208.9" y2="510.3" stroke="#333" stroke-width="0.6"/>
<line x1="238.8" y1="507.7" x2="238.8" y2="510.3" stroke="#333" stroke-width="0.6"/>
<line x1="268.7" y1="507.7" x2="268.7" y2="510.3" stroke="#333" stroke-width="0.6"/>
<line x1="298.6" y1="507.7" x2="298.6" y2="510.3" stroke="#333" stroke-width="0.6"/>
<line x1="328.5" y1="507.7" x2="328.5" y2="510.3" stroke="#333" stroke-width="0.6"/>
<line x1="203.0" y1="499.1" x2="203.0" y2="502.5" stroke="#333" stroke-width="0.6"/>
<rect x="197.9" y="499.1" width="10.2" height="3.4" fill="#4D4D4D" stroke="#555" stroke-width="0.6"/>
<line x1="197.9" y1="500.5" x2="208.1" y2="500.5" stroke="#555" stroke-width="0.7"/>
<circle cx="203.0" cy="427.6" r="2.0" fill="#6B6B00" stroke="#000" stroke-width="0.7"/>
<circle cx="203.0" cy="499.5" r="1.4" fill="#F8E060" stroke="#000" stroke-width="0.45"/>
<circle cx="203.0" cy="500.8" r="1.4" fill="#D010D0" stroke="#000" stroke-width="0.45"/>
<circle cx="203.0" cy="502.5" r="1.4" fill="#F4A8B0" stroke="#000" stroke-width="0.45"/>
<line x1="214.2" y1="499.3" x2="214.2" y2="502.5" stroke="#333" stroke-width="0.6"/>
<rect x="209.1" y="499.3" width="10.2" height="3.2" fill="#FF0000" stroke="#A01010" stroke-width="0.6"/>
<line x1="209.1" y1="501" x2="219.3" y2="501" stroke="#A01010" stroke-width="0.7"/>
<circle cx="214.2" cy="499.3" r="1.4" fill="#D010D0" stroke="#000" stroke-width="0.45"/>
<circle cx="214.2" cy="500.8" r="1.4" fill="#DC143C" stroke="#000" stroke-width="0.45"/>
<circle cx="214.2" cy="503" r="1.4" fill="#F4A8B0" stroke="#000" stroke-width="0.45"/>
<line x1="232.9" y1="504" x2="232.9" y2="504.6" stroke="#333" stroke-width="0.6"/>
<rect x="227.8" y="504" width="10.2" height="0.6" fill="#4D4D4D" stroke="#555" stroke-width="0.6"/>
<line x1="227.8" y1="504.3" x2="238.0" y2="504.3" stroke="#555" stroke-width="0.7"/>
<circle cx="232.9" cy="504.3" r="1.4" fill="#A010B0" stroke="#000" stroke-width="0.45"/>
<line x1="244.1" y1="504" x2="244.1" y2="504.6" stroke="#333" stroke-width="0.6"/>
<rect x="239.0" y="504" width="10.2" height="0.6" fill="#FF0000" stroke="#A01010" stroke-width="0.6"/>
<line x1="239.0" y1="504.3" x2="249.2" y2="504.3" stroke="#A01010" stroke-width="0.7"/>
<circle cx="244.1" cy="504.6" r="1.4" fill="#F4A8B0" stroke="#000" stroke-width="0.45"/>
<line x1="262.8" y1="504" x2="262.8" y2="504.6" stroke="#333" stroke-width="0.6"/>
<rect x="257.7" y="504" width="10.2" height="0.6" fill="#4D4D4D" stroke="#555" stroke-width="0.6"/>
<line x1="257.7" y1="504.3" x2="267.9" y2="504.3" stroke="#555" stroke-width="0.7"/>
<circle cx="262.8" cy="504" r="1.4" fill="#A010B0" stroke="#000" stroke-width="0.45"/>
<line x1="274.0" y1="504" x2="274.0" y2="504.6" stroke="#333" stroke-width="0.6"/>
<rect x="268.9" y="504" width="10.2" height="0.6" fill="#FF0000" stroke="#A01010" stroke-width="0.6"/>
<line x1="268.9" y1="504.3" x2="279.1" y2="504.3" stroke="#A01010" stroke-width="0.7"/>
<circle cx="274.0" cy="504.6" r="1.4" fill="#1030C0" stroke="#000" stroke-width="0.45"/>
<line x1="292.7" y1="478.8" x2="292.7" y2="499" stroke="#333" stroke-width="0.6"/>
<rect x="287.6" y="484.1" width="10.2" height="10.0" fill="#4D4D4D" stroke="#555" stroke-width="0.6"/>
<line x1="287.6" y1="489" x2="297.8" y2="489" stroke="#555" stroke-width="0.7"/>
<circle cx="292.7" cy="478.8" r="1.4" fill="#D010D0" stroke="#000" stroke-width="0.45"/>
<circle cx="292.7" cy="489" r="1.4" fill="#F8E060" stroke="#000" stroke-width="0.45"/>
<circle cx="292.7" cy="499" r="1.4" fill="#D010D0" stroke="#000" stroke-width="0.45"/>
<line x1="303.9" y1="492" x2="303.9" y2="502" stroke="#333" stroke-width="0.6"/>
<rect x="298.8" y="493.8" width="10.2" height="6.0" fill="#FF0000" stroke="#A01010" stroke-width="0.6"/>
<line x1="298.8" y1="497" x2="309.0" y2="497" stroke="#A01010" stroke-width="0.7"/>
<circle cx="303.9" cy="463.8" r="1.4" fill="#DC143C" stroke="#000" stroke-width="0.45"/>
<circle cx="303.9" cy="492" r="1.4" fill="#2EE02E" stroke="#000" stroke-width="0.45"/>
<circle cx="303.9" cy="495" r="1.4" fill="#D010D0" stroke="#000" stroke-width="0.45"/>
<circle cx="303.9" cy="497.5" r="1.4" fill="#F0A060" stroke="#000" stroke-width="0.45"/>
<circle cx="303.9" cy="500" r="1.4" fill="#DC143C" stroke="#000" stroke-width="0.45"/>
<circle cx="303.9" cy="502" r="1.4" fill="#F8E0E0" stroke="#000" stroke-width="0.45"/>
<line x1="322.6" y1="498" x2="322.6" y2="500.6" stroke="#333" stroke-width="0.6"/>
<rect x="317.5" y="498" width="10.2" height="2.6" fill="#4D4D4D" stroke="#555" stroke-width="0.6"/>
<line x1="317.5" y1="499" x2="327.7" y2="499" stroke="#555" stroke-width="0.7"/>
<circle cx="322.6" cy="498.3" r="1.4" fill="#D010D0" stroke="#000" stroke-width="0.45"/>
<circle cx="322.6" cy="500" r="1.4" fill="#F8E060" stroke="#000" stroke-width="0.45"/>
<line x1="333.8" y1="499.8" x2="333.8" y2="503" stroke="#333" stroke-width="0.6"/>
<rect x="328.7" y="499.8" width="10.2" height="3.2" fill="#FF0000" stroke="#A01010" stroke-width="0.6"/>
<line x1="328.7" y1="501" x2="338.9" y2="501" stroke="#A01010" stroke-width="0.7"/>
<circle cx="333.8" cy="488.5" r="1.4" fill="#DC143C" stroke="#000" stroke-width="0.45"/>
<circle cx="333.8" cy="496.7" r="1.4" fill="#F8E0E0" stroke="#000" stroke-width="0.45"/>
<circle cx="333.8" cy="500" r="1.4" fill="#D010D0" stroke="#000" stroke-width="0.45"/>
<circle cx="333.8" cy="503" r="1.4" fill="#DC143C" stroke="#000" stroke-width="0.45"/>
<text x="213.5" y="424.5" font-size="5.6" text-anchor="middle" fill="#000" stroke="#000" stroke-width="0.22" >NS</text>
<text x="238.8" y="425.8" font-size="5.6" text-anchor="middle" fill="#000" stroke="#000" stroke-width="0.22" >NS</text>
<text x="268.7" y="425.8" font-size="5.6" text-anchor="middle" fill="#000" stroke="#000" stroke-width="0.22" >NS</text>
<text x="324.1" y="447.5" font-size="5.6" text-anchor="middle" fill="#000" stroke="#000" stroke-width="0.22" >FDR = 8.47×10⁻³</text>
<text x="293.9" y="459.8" font-size="5.6" text-anchor="middle" fill="#000" stroke="#000" stroke-width="0.22" >FDR = 5.28×10⁻⁵</text>
<rect x="190.5" y="419.7" width="156.1" height="88.0" fill="none" stroke="#555" stroke-width="1"/>
<text x="208.9" y="518.2" font-size="6.9" text-anchor="middle" fill="#1a1a1a" stroke="#1a1a1a" stroke-width="0.22" >Pre−radio</text>
<text x="238.8" y="518.2" font-size="6.9" text-anchor="middle" fill="#1a1a1a" stroke="#1a1a1a" stroke-width="0.22" >Pre−radio</text>
<text x="268.7" y="518.2" font-size="6.9" text-anchor="middle" fill="#1a1a1a" stroke="#1a1a1a" stroke-width="0.22" >On−radio</text>
<text x="298.6" y="518.2" font-size="6.9" text-anchor="middle" fill="#1a1a1a" stroke="#1a1a1a" stroke-width="0.22" >Pre−imm</text>
<text x="328.5" y="518.2" font-size="6.9" text-anchor="middle" fill="#1a1a1a" stroke="#1a1a1a" stroke-width="0.22" >On−imm</text>
<rect x="190.5" y="519.2" width="35.3" height="5.3" fill="#E85540"/>
<rect x="225.8" y="519.2" width="56.7" height="5.3" fill="#4CB9D9"/>
<rect x="282.5" y="519.2" width="64.1" height="5.3" fill="#E85540"/>
<text x="208.9" y="524.1" font-size="6.9" text-anchor="middle" fill="#1a1a1a" stroke="#1a1a1a" stroke-width="0.22" >PBMC</text>
<text x="238.8" y="524.1" font-size="6.9" text-anchor="middle" fill="#1a1a1a" stroke="#1a1a1a" stroke-width="0.22" >tumor</text>
<text x="268.7" y="524.1" font-size="6.9" text-anchor="middle" fill="#1a1a1a" stroke="#1a1a1a" stroke-width="0.22" >tumor</text>
<text x="298.6" y="524.1" font-size="6.9" text-anchor="middle" fill="#1a1a1a" stroke="#1a1a1a" stroke-width="0.22" >PBMC</text>
<text x="328.5" y="524.1" font-size="6.9" text-anchor="middle" fill="#1a1a1a" stroke="#1a1a1a" stroke-width="0.22" >PBMC</text>
<rect x="359.2" y="419.7" width="35.3" height="88.0" fill="#F9D9D7"/>
<rect x="394.5" y="419.7" width="56.7" height="88.0" fill="#D9EDF5"/>
<rect x="451.2" y="419.7" width="63.5" height="88.0" fill="#F9D9D7"/>
<text x="439.9" y="416.5" font-size="7.8" text-anchor="middle" fill="#000" stroke="#000" stroke-width="0.22" >Mono.SERPINB1</text>
<line x1="356.59999999999997" y1="443.4" x2="359.2" y2="443.4" stroke="#333" stroke-width="0.6"/>
<text x="354.8" y="445.6" font-size="6.4" text-anchor="end" fill="#222" stroke="#222" stroke-width="0.22" >20</text>
<line x1="356.59999999999997" y1="474.1" x2="359.2" y2="474.1" stroke="#333" stroke-width="0.6"/>
<text x="354.8" y="476.3" font-size="6.4" text-anchor="end" fill="#222" stroke="#222" stroke-width="0.22" >10</text>
<line x1="356.59999999999997" y1="504.6" x2="359.2" y2="504.6" stroke="#333" stroke-width="0.6"/>
<text x="354.8" y="506.8" font-size="6.4" text-anchor="end" fill="#222" stroke="#222" stroke-width="0.22" >0</text>
<line x1="377.6" y1="507.7" x2="377.6" y2="510.3" stroke="#333" stroke-width="0.6"/>
<line x1="407.5" y1="507.7" x2="407.5" y2="510.3" stroke="#333" stroke-width="0.6"/>
<line x1="437.4" y1="507.7" x2="437.4" y2="510.3" stroke="#333" stroke-width="0.6"/>
<line x1="467.3" y1="507.7" x2="467.3" y2="510.3" stroke="#333" stroke-width="0.6"/>
<line x1="497.2" y1="507.7" x2="497.2" y2="510.3" stroke="#333" stroke-width="0.6"/>
<line x1="371.7" y1="482.8" x2="371.7" y2="501.2" stroke="#333" stroke-width="0.6"/>
<rect x="366.6" y="483.3" width="10.2" height="11.3" fill="#4D4D4D" stroke="#555" stroke-width="0.6"/>
<line x1="366.6" y1="490" x2="376.8" y2="490" stroke="#555" stroke-width="0.7"/>
<circle cx="371.7" cy="427" r="2.0" fill="#6B6B00" stroke="#000" stroke-width="0.7"/>
<circle cx="371.7" cy="482.8" r="1.4" fill="#F4A8B0" stroke="#000" stroke-width="0.45"/>
<circle cx="371.7" cy="492" r="1.4" fill="#F8E060" stroke="#000" stroke-width="0.45"/>
<circle cx="371.7" cy="494" r="1.4" fill="#D010D0" stroke="#000" stroke-width="0.45"/>
<circle cx="371.7" cy="501.2" r="1.4" fill="#A010B0" stroke="#000" stroke-width="0.45"/>
<line x1="382.9" y1="492.7" x2="382.9" y2="497.7" stroke="#333" stroke-width="0.6"/>
<rect x="377.8" y="494.6" width="10.2" height="3.1" fill="#FF0000" stroke="#A01010" stroke-width="0.6"/>
<line x1="377.8" y1="496" x2="388.0" y2="496" stroke="#A01010" stroke-width="0.7"/>
<circle cx="382.9" cy="492.7" r="1.4" fill="#F8E0E0" stroke="#000" stroke-width="0.45"/>
<circle cx="382.9" cy="495.5" r="1.4" fill="#D010D0" stroke="#000" stroke-width="0.45"/>
<circle cx="382.9" cy="501.2" r="1.4" fill="#DC143C" stroke="#000" stroke-width="0.45"/>
<line x1="401.6" y1="504" x2="401.6" y2="504.6" stroke="#333" stroke-width="0.6"/>
<rect x="396.5" y="504" width="10.2" height="0.6" fill="#4D4D4D" stroke="#555" stroke-width="0.6"/>
<line x1="396.5" y1="504.3" x2="406.7" y2="504.3" stroke="#555" stroke-width="0.7"/>
<circle cx="401.6" cy="504" r="1.4" fill="#D010D0" stroke="#000" stroke-width="0.45"/>
<line x1="412.8" y1="504" x2="412.8" y2="504.6" stroke="#333" stroke-width="0.6"/>
<rect x="407.7" y="504" width="10.2" height="0.6" fill="#FF0000" stroke="#A01010" stroke-width="0.6"/>
<line x1="407.7" y1="504.3" x2="417.9" y2="504.3" stroke="#A01010" stroke-width="0.7"/>
<circle cx="412.8" cy="504.6" r="1.4" fill="#D010D0" stroke="#000" stroke-width="0.45"/>
<line x1="431.5" y1="504" x2="431.5" y2="504.6" stroke="#333" stroke-width="0.6"/>
<rect x="426.4" y="504" width="10.2" height="0.6" fill="#4D4D4D" stroke="#555" stroke-width="0.6"/>
<line x1="426.4" y1="504.3" x2="436.6" y2="504.3" stroke="#555" stroke-width="0.7"/>
<circle cx="431.5" cy="504" r="1.4" fill="#F8E060" stroke="#000" stroke-width="0.45"/>
<line x1="442.7" y1="504" x2="442.7" y2="504.6" stroke="#333" stroke-width="0.6"/>
<rect x="437.6" y="504" width="10.2" height="0.6" fill="#FF0000" stroke="#A01010" stroke-width="0.6"/>
<line x1="437.6" y1="504.3" x2="447.8" y2="504.3" stroke="#A01010" stroke-width="0.7"/>
<circle cx="442.7" cy="504.3" r="1.4" fill="#DC143C" stroke="#000" stroke-width="0.45"/>
<line x1="461.4" y1="474.1" x2="461.4" y2="483.6" stroke="#333" stroke-width="0.6"/>
<rect x="456.3" y="477" width="10.2" height="5.0" fill="#4D4D4D" stroke="#555" stroke-width="0.6"/>
<line x1="456.3" y1="479" x2="466.5" y2="479" stroke="#555" stroke-width="0.7"/>
<circle cx="461.4" cy="474.1" r="1.4" fill="#F8E060" stroke="#000" stroke-width="0.45"/>
<circle cx="461.4" cy="479.5" r="1.4" fill="#D010D0" stroke="#000" stroke-width="0.45"/>
<circle cx="461.4" cy="483.6" r="1.4" fill="#A010B0" stroke="#000" stroke-width="0.45"/>
<line x1="472.6" y1="458.3" x2="472.6" y2="503" stroke="#333" stroke-width="0.6"/>
<rect x="467.5" y="471.5" width="10.2" height="25.2" fill="#FF0000" stroke="#A01010" stroke-width="0.6"/>
<line x1="467.5" y1="488.5" x2="477.7" y2="488.5" stroke="#A01010" stroke-width="0.7"/>
<circle cx="472.6" cy="458.3" r="1.4" fill="#000070" stroke="#000" stroke-width="0.45"/>
<circle cx="472.6" cy="470.4" r="1.4" fill="#DC143C" stroke="#000" stroke-width="0.45"/>
<circle cx="472.6" cy="480.9" r="1.4" fill="#DC143C" stroke="#000" stroke-width="0.45"/>
<circle cx="472.6" cy="494" r="1.4" fill="#F8E0E0" stroke="#000" stroke-width="0.45"/>
<circle cx="472.6" cy="500" r="1.4" fill="#2EE02E" stroke="#000" stroke-width="0.45"/>
<circle cx="472.6" cy="503" r="1.4" fill="#118811" stroke="#000" stroke-width="0.45"/>
<line x1="491.3" y1="462.3" x2="491.3" y2="498" stroke="#333" stroke-width="0.6"/>
<rect x="486.2" y="472.3" width="10.2" height="18.3" fill="#4D4D4D" stroke="#555" stroke-width="0.6"/>
<line x1="486.2" y1="482.2" x2="496.4" y2="482.2" stroke="#555" stroke-width="0.7"/>
<circle cx="491.3" cy="462.3" r="1.4" fill="#D010D0" stroke="#000" stroke-width="0.45"/>
<circle cx="491.3" cy="482.2" r="1.4" fill="#F8E060" stroke="#000" stroke-width="0.45"/>
<circle cx="491.3" cy="498" r="1.4" fill="#D010D0" stroke="#000" stroke-width="0.45"/>
<line x1="502.5" y1="472.8" x2="502.5" y2="503.3" stroke="#333" stroke-width="0.6"/>
<rect x="497.4" y="482" width="10.2" height="16.5" fill="#FF0000" stroke="#A01010" stroke-width="0.6"/>
<line x1="497.4" y1="489.3" x2="507.6" y2="489.3" stroke="#A01010" stroke-width="0.7"/>
<circle cx="502.5" cy="472.8" r="1.4" fill="#DC143C" stroke="#000" stroke-width="0.45"/>
<circle cx="502.5" cy="478.8" r="1.4" fill="#F4A8B0" stroke="#000" stroke-width="0.45"/>
<circle cx="502.5" cy="482" r="1.4" fill="#2EE02E" stroke="#000" stroke-width="0.45"/>
<circle cx="502.5" cy="490" r="1.4" fill="#F8E0E0" stroke="#000" stroke-width="0.45"/>
<circle cx="502.5" cy="495" r="1.4" fill="#F0A060" stroke="#000" stroke-width="0.45"/>
<circle cx="502.5" cy="500" r="1.4" fill="#118811" stroke="#000" stroke-width="0.45"/>
<circle cx="502.5" cy="503.3" r="1.4" fill="#000070" stroke="#000" stroke-width="0.45"/>
<text x="378.0" y="424.5" font-size="5.6" text-anchor="middle" fill="#000" stroke="#000" stroke-width="0.22" >NS</text>
<text x="407.5" y="425.8" font-size="5.6" text-anchor="middle" fill="#000" stroke="#000" stroke-width="0.22" >NS</text>
<text x="437.4" y="425.8" font-size="5.6" text-anchor="middle" fill="#000" stroke="#000" stroke-width="0.22" >NS</text>
<text x="458.7" y="453.2" font-size="5.6" text-anchor="middle" fill="#000" stroke="#000" stroke-width="0.22" transform="rotate(-17 458.7 453.2)">FDR = 4.17×10⁻⁶</text>
<text x="494.1" y="450.8" font-size="5.6" text-anchor="middle" fill="#000" stroke="#000" stroke-width="0.22" transform="rotate(-17 494.1 450.8)">FDR = 3.83×10⁻⁴</text>
<rect x="359.2" y="419.7" width="155.5" height="88.0" fill="none" stroke="#555" stroke-width="1"/>
<text x="377.6" y="518.2" font-size="6.9" text-anchor="middle" fill="#1a1a1a" stroke="#1a1a1a" stroke-width="0.22" >Pre−radio</text>
<text x="407.5" y="518.2" font-size="6.9" text-anchor="middle" fill="#1a1a1a" stroke="#1a1a1a" stroke-width="0.22" >Pre−radio</text>
<text x="437.4" y="518.2" font-size="6.9" text-anchor="middle" fill="#1a1a1a" stroke="#1a1a1a" stroke-width="0.22" >On−radio</text>
<text x="467.3" y="518.2" font-size="6.9" text-anchor="middle" fill="#1a1a1a" stroke="#1a1a1a" stroke-width="0.22" >Pre−imm</text>
<text x="497.2" y="518.2" font-size="6.9" text-anchor="middle" fill="#1a1a1a" stroke="#1a1a1a" stroke-width="0.22" >On−imm</text>
<rect x="359.2" y="519.2" width="35.3" height="5.3" fill="#E85540"/>
<rect x="394.5" y="519.2" width="56.7" height="5.3" fill="#4CB9D9"/>
<rect x="451.2" y="519.2" width="63.5" height="5.3" fill="#E85540"/>
<text x="377.6" y="524.1" font-size="6.9" text-anchor="middle" fill="#1a1a1a" stroke="#1a1a1a" stroke-width="0.22" >PBMC</text>
<text x="407.5" y="524.1" font-size="6.9" text-anchor="middle" fill="#1a1a1a" stroke="#1a1a1a" stroke-width="0.22" >tumor</text>
<text x="437.4" y="524.1" font-size="6.9" text-anchor="middle" fill="#1a1a1a" stroke="#1a1a1a" stroke-width="0.22" >tumor</text>
<text x="467.3" y="524.1" font-size="6.9" text-anchor="middle" fill="#1a1a1a" stroke="#1a1a1a" stroke-width="0.22" >PBMC</text>
<text x="497.2" y="524.1" font-size="6.9" text-anchor="middle" fill="#1a1a1a" stroke="#1a1a1a" stroke-width="0.22" >PBMC</text>
<rect x="529.2" y="419.7" width="35.3" height="88.0" fill="#F9D9D7"/>
<rect x="564.5" y="419.7" width="56.7" height="88.0" fill="#D9EDF5"/>
<rect x="621.2" y="419.7" width="63.3" height="88.0" fill="#F9D9D7"/>
<text x="609.8" y="416.5" font-size="7.8" text-anchor="middle" fill="#000" stroke="#000" stroke-width="0.22" >Mono.MHCII</text>
<line x1="526.6" y1="420.2" x2="529.2" y2="420.2" stroke="#333" stroke-width="0.6"/>
<text x="524.8" y="422.4" font-size="6.4" text-anchor="end" fill="#222" stroke="#222" stroke-width="0.22" >15</text>
<line x1="526.6" y1="448.6" x2="529.2" y2="448.6" stroke="#333" stroke-width="0.6"/>
<text x="524.8" y="450.8" font-size="6.4" text-anchor="end" fill="#222" stroke="#222" stroke-width="0.22" >10</text>
<line x1="526.6" y1="476.7" x2="529.2" y2="476.7" stroke="#333" stroke-width="0.6"/>
<text x="524.8" y="478.9" font-size="6.4" text-anchor="end" fill="#222" stroke="#222" stroke-width="0.22" >5</text>
<line x1="526.6" y1="504.6" x2="529.2" y2="504.6" stroke="#333" stroke-width="0.6"/>
<text x="524.8" y="506.8" font-size="6.4" text-anchor="end" fill="#222" stroke="#222" stroke-width="0.22" >0</text>
<line x1="547.6" y1="507.7" x2="547.6" y2="510.3" stroke="#333" stroke-width="0.6"/>
<line x1="577.5" y1="507.7" x2="577.5" y2="510.3" stroke="#333" stroke-width="0.6"/>
<line x1="607.4" y1="507.7" x2="607.4" y2="510.3" stroke="#333" stroke-width="0.6"/>
<line x1="637.3" y1="507.7" x2="637.3" y2="510.3" stroke="#333" stroke-width="0.6"/>
<line x1="667.2" y1="507.7" x2="667.2" y2="510.3" stroke="#333" stroke-width="0.6"/>
<line x1="541.7" y1="472.8" x2="541.7" y2="503.3" stroke="#333" stroke-width="0.6"/>
<rect x="536.6" y="474.4" width="10.2" height="20.2" fill="#4D4D4D" stroke="#555" stroke-width="0.6"/>
<line x1="536.6" y1="489" x2="546.8" y2="489" stroke="#555" stroke-width="0.7"/>
<circle cx="541.7" cy="472.8" r="1.4" fill="#6B6B00" stroke="#000" stroke-width="0.45"/>
<circle cx="541.7" cy="488.8" r="1.4" fill="#F8E060" stroke="#000" stroke-width="0.45"/>
<circle cx="541.7" cy="494" r="1.4" fill="#D010D0" stroke="#000" stroke-width="0.45"/>
<circle cx="541.7" cy="503.3" r="1.4" fill="#D010D0" stroke="#000" stroke-width="0.45"/>
<line x1="552.9" y1="482.8" x2="552.9" y2="494.6" stroke="#333" stroke-width="0.6"/>
<rect x="547.8" y="484.9" width="10.2" height="9.7" fill="#FF0000" stroke="#A01010" stroke-width="0.6"/>
<line x1="547.8" y1="489" x2="558.0" y2="489" stroke="#A01010" stroke-width="0.7"/>
<circle cx="552.9" cy="482.8" r="1.4" fill="#F8E0E0" stroke="#000" stroke-width="0.45"/>
<circle cx="552.9" cy="485.5" r="1.4" fill="#DC143C" stroke="#000" stroke-width="0.45"/>
<circle cx="552.9" cy="494.6" r="1.4" fill="#DC143C" stroke="#000" stroke-width="0.45"/>
<line x1="571.6" y1="504" x2="571.6" y2="504.6" stroke="#333" stroke-width="0.6"/>
<rect x="566.5" y="504" width="10.2" height="0.6" fill="#4D4D4D" stroke="#555" stroke-width="0.6"/>
<line x1="566.5" y1="504.3" x2="576.7" y2="504.3" stroke="#555" stroke-width="0.7"/>
<circle cx="571.6" cy="503.3" r="1.4" fill="#D010D0" stroke="#000" stroke-width="0.45"/>
<line x1="582.8" y1="504" x2="582.8" y2="504.6" stroke="#333" stroke-width="0.6"/>
<rect x="577.7" y="504" width="10.2" height="0.6" fill="#FF0000" stroke="#A01010" stroke-width="0.6"/>
<line x1="577.7" y1="504.3" x2="587.9" y2="504.3" stroke="#A01010" stroke-width="0.7"/>
<circle cx="582.8" cy="504.6" r="1.4" fill="#DC143C" stroke="#000" stroke-width="0.45"/>
<line x1="601.5" y1="504" x2="601.5" y2="504.6" stroke="#333" stroke-width="0.6"/>
<rect x="596.4" y="504" width="10.2" height="0.6" fill="#4D4D4D" stroke="#555" stroke-width="0.6"/>
<line x1="596.4" y1="504.3" x2="606.6" y2="504.3" stroke="#555" stroke-width="0.7"/>
<circle cx="601.5" cy="504" r="1.4" fill="#3EE3A6" stroke="#000" stroke-width="0.45"/>
<line x1="612.7" y1="503.3" x2="612.7" y2="504.6" stroke="#333" stroke-width="0.6"/>
<rect x="607.6" y="503.6" width="10.2" height="1.0" fill="#FF0000" stroke="#A01010" stroke-width="0.6"/>
<line x1="607.6" y1="504" x2="617.8" y2="504" stroke="#A01010" stroke-width="0.7"/>
<circle cx="612.7" cy="502.5" r="1.4" fill="#F4A8B0" stroke="#000" stroke-width="0.45"/>
<circle cx="612.7" cy="504.3" r="1.4" fill="#DC143C" stroke="#000" stroke-width="0.45"/>
<line x1="631.4" y1="448.6" x2="631.4" y2="463.6" stroke="#333" stroke-width="0.6"/>
<rect x="626.3" y="454.4" width="10.2" height="7.3" fill="#4D4D4D" stroke="#555" stroke-width="0.6"/>
<line x1="626.3" y1="457" x2="636.5" y2="457" stroke="#555" stroke-width="0.7"/>
<circle cx="631.4" cy="448.6" r="1.4" fill="#F8E890" stroke="#000" stroke-width="0.45"/>
<circle cx="631.4" cy="459" r="1.4" fill="#D010D0" stroke="#000" stroke-width="0.45"/>
<circle cx="631.4" cy="463.6" r="1.4" fill="#A010B0" stroke="#000" stroke-width="0.45"/>
<line x1="642.6" y1="453.9" x2="642.6" y2="499.3" stroke="#333" stroke-width="0.6"/>
<rect x="637.5" y="461" width="10.2" height="18.3" fill="#FF0000" stroke="#A01010" stroke-width="0.6"/>
<line x1="637.5" y1="469.6" x2="647.7" y2="469.6" stroke="#A01010" stroke-width="0.7"/>
<circle cx="642.6" cy="427" r="2.0" fill="#118811" stroke="#000" stroke-width="0.7"/>
<circle cx="642.6" cy="453.9" r="1.4" fill="#DC143C" stroke="#000" stroke-width="0.45"/>
<circle cx="642.6" cy="466" r="1.4" fill="#000070" stroke="#000" stroke-width="0.45"/>
<circle cx="642.6" cy="469" r="1.4" fill="#D010D0" stroke="#000" stroke-width="0.45"/>
<circle cx="642.6" cy="475" r="1.4" fill="#F0A060" stroke="#000" stroke-width="0.45"/>
<circle cx="642.6" cy="485.4" r="1.4" fill="#DC143C" stroke="#000" stroke-width="0.45"/>
<circle cx="642.6" cy="499.3" r="1.4" fill="#118811" stroke="#000" stroke-width="0.45"/>
<line x1="661.3" y1="445.2" x2="661.3" y2="483.6" stroke="#333" stroke-width="0.6"/>
<rect x="656.2" y="456" width="10.2" height="19.7" fill="#4D4D4D" stroke="#555" stroke-width="0.6"/>
<line x1="656.2" y1="467.5" x2="666.4" y2="467.5" stroke="#555" stroke-width="0.7"/>
<circle cx="661.3" cy="445.2" r="1.4" fill="#D010D0" stroke="#000" stroke-width="0.45"/>
<circle cx="661.3" cy="467.5" r="1.4" fill="#F8E060" stroke="#000" stroke-width="0.45"/>
<circle cx="661.3" cy="483.6" r="1.4" fill="#A010B0" stroke="#000" stroke-width="0.45"/>
<line x1="672.5" y1="445.2" x2="672.5" y2="503" stroke="#333" stroke-width="0.6"/>
<rect x="667.4" y="464.4" width="10.2" height="26.8" fill="#FF0000" stroke="#A01010" stroke-width="0.6"/>
<line x1="667.4" y1="479.3" x2="677.6" y2="479.3" stroke="#A01010" stroke-width="0.7"/>
<circle cx="672.5" cy="445.2" r="1.4" fill="#DC143C" stroke="#000" stroke-width="0.45"/>
<circle cx="672.5" cy="449.4" r="1.4" fill="#F8E0E0" stroke="#000" stroke-width="0.45"/>
<circle cx="672.5" cy="466" r="1.4" fill="#DC143C" stroke="#000" stroke-width="0.45"/>
<circle cx="672.5" cy="470" r="1.4" fill="#F0A060" stroke="#000" stroke-width="0.45"/>
<circle cx="672.5" cy="477" r="1.4" fill="#F8E0E0" stroke="#000" stroke-width="0.45"/>
<circle cx="672.5" cy="483.5" r="1.4" fill="#F8E060" stroke="#000" stroke-width="0.45"/>
<circle cx="672.5" cy="498" r="1.4" fill="#118811" stroke="#000" stroke-width="0.45"/>
<circle cx="672.5" cy="503" r="1.4" fill="#000070" stroke="#000" stroke-width="0.45"/>
<text x="547.6" y="425.8" font-size="5.6" text-anchor="middle" fill="#000" stroke="#000" stroke-width="0.22" >NS</text>
<text x="577.5" y="425.8" font-size="5.6" text-anchor="middle" fill="#000" stroke="#000" stroke-width="0.22" >NS</text>
<text x="607.4" y="425.8" font-size="5.6" text-anchor="middle" fill="#000" stroke="#000" stroke-width="0.22" >NS</text>
<text x="637.1" y="425.8" font-size="5.6" text-anchor="middle" fill="#000" stroke="#000" stroke-width="0.22" >FDR = 7.11×10⁻⁴</text>
<text x="662.9" y="439.8" font-size="5.6" text-anchor="middle" fill="#000" stroke="#000" stroke-width="0.22" >FDR = 1.32×10⁻⁴</text>
<rect x="529.2" y="419.7" width="155.3" height="88.0" fill="none" stroke="#555" stroke-width="1"/>
<text x="547.6" y="518.2" font-size="6.9" text-anchor="middle" fill="#1a1a1a" stroke="#1a1a1a" stroke-width="0.22" >Pre−radio</text>
<text x="577.5" y="518.2" font-size="6.9" text-anchor="middle" fill="#1a1a1a" stroke="#1a1a1a" stroke-width="0.22" >Pre−radio</text>
<text x="607.4" y="518.2" font-size="6.9" text-anchor="middle" fill="#1a1a1a" stroke="#1a1a1a" stroke-width="0.22" >On−radio</text>
<text x="637.3" y="518.2" font-size="6.9" text-anchor="middle" fill="#1a1a1a" stroke="#1a1a1a" stroke-width="0.22" >Pre−imm</text>
<text x="667.2" y="518.2" font-size="6.9" text-anchor="middle" fill="#1a1a1a" stroke="#1a1a1a" stroke-width="0.22" >On−imm</text>
<rect x="529.2" y="519.2" width="35.3" height="5.3" fill="#E85540"/>
<rect x="564.5" y="519.2" width="56.7" height="5.3" fill="#4CB9D9"/>
<rect x="621.2" y="519.2" width="63.3" height="5.3" fill="#E85540"/>
<text x="547.6" y="524.1" font-size="6.9" text-anchor="middle" fill="#1a1a1a" stroke="#1a1a1a" stroke-width="0.22" >PBMC</text>
<text x="577.5" y="524.1" font-size="6.9" text-anchor="middle" fill="#1a1a1a" stroke="#1a1a1a" stroke-width="0.22" >tumor</text>
<text x="607.4" y="524.1" font-size="6.9" text-anchor="middle" fill="#1a1a1a" stroke="#1a1a1a" stroke-width="0.22" >tumor</text>
<text x="637.3" y="524.1" font-size="6.9" text-anchor="middle" fill="#1a1a1a" stroke="#1a1a1a" stroke-width="0.22" >PBMC</text>
<text x="667.2" y="524.1" font-size="6.9" text-anchor="middle" fill="#1a1a1a" stroke="#1a1a1a" stroke-width="0.22" >PBMC</text>
<text x="3.6" y="406.5" font-size="6.9" text-anchor="middle" fill="#000" stroke="#000" stroke-width="0.22" transform="rotate(-90 3.6 406.5)">Percentage</text>
<text x="37.0" y="549.0" font-size="8.4" text-anchor="start" fill="#000" stroke="#000" stroke-width="0.22" >irAEs</text>
<line x1="42.7" y1="554.5" x2="42.7" y2="564.5" stroke="#333" stroke-width="0.6"/>
<rect x="38" y="556.4" width="9.5" height="6.2" fill="#FF0000" stroke="#333" stroke-width="0.6"/>
<line x1="38" y1="559.5" x2="47.5" y2="559.5" stroke="#333" stroke-width="0.6"/>
<line x1="42.7" y1="566.5" x2="42.7" y2="576.5" stroke="#333" stroke-width="0.6"/>
<rect x="38" y="568" width="9.5" height="6.7" fill="#4D4D4D" stroke="#333" stroke-width="0.6"/>
<line x1="38" y1="571.3" x2="47.5" y2="571.3" stroke="#333" stroke-width="0.6"/>
<text x="52.6" y="562.2" font-size="6.9" text-anchor="start" fill="#000" stroke="#000" stroke-width="0.22" >Present</text>
<text x="52.6" y="574.2" font-size="6.9" text-anchor="start" fill="#000" stroke="#000" stroke-width="0.22" >Absent</text>
<text x="104.9" y="549.0" font-size="8.4" text-anchor="start" fill="#000" stroke="#000" stroke-width="0.22" >Patient</text>
<circle cx="123.9" cy="555.7" r="2.2" fill="#3EE3A6" stroke="#000" stroke-width="0.4"/>
<text x="126.3" y="561.3" font-size="7.0" text-anchor="end" fill="#000" stroke="#000" stroke-width="0.22" transform="rotate(-45 126.3 561.3)">ICI_PT1</text>
<circle cx="134.1" cy="555.7" r="2.2" fill="#DC143C" stroke="#000" stroke-width="0.4"/>
<text x="136.5" y="561.3" font-size="7.0" text-anchor="end" fill="#000" stroke="#000" stroke-width="0.22" transform="rotate(-45 136.5 561.3)">ICI_PT10</text>
<circle cx="144.3" cy="555.7" r="2.2" fill="#6B6B00" stroke="#000" stroke-width="0.4"/>
<text x="146.7" y="561.3" font-size="7.0" text-anchor="end" fill="#000" stroke="#000" stroke-width="0.22" transform="rotate(-45 146.7 561.3)">ICI_PT12</text>
<circle cx="154.6" cy="555.7" r="2.2" fill="#2EE02E" stroke="#000" stroke-width="0.4"/>
<text x="157.0" y="561.3" font-size="7.0" text-anchor="end" fill="#000" stroke="#000" stroke-width="0.22" transform="rotate(-45 157.0 561.3)">ICI_PT13</text>
<circle cx="164.8" cy="555.7" r="2.2" fill="#F4B0B0" stroke="#000" stroke-width="0.4"/>
<text x="167.2" y="561.3" font-size="7.0" text-anchor="end" fill="#000" stroke="#000" stroke-width="0.22" transform="rotate(-45 167.2 561.3)">ICI_PT14</text>
<circle cx="175.0" cy="555.7" r="2.2" fill="#E8101A" stroke="#000" stroke-width="0.4"/>
<text x="177.4" y="561.3" font-size="7.0" text-anchor="end" fill="#000" stroke="#000" stroke-width="0.22" transform="rotate(-45 177.4 561.3)">ICI_PT15</text>
<circle cx="185.2" cy="555.7" r="2.2" fill="#C050E0" stroke="#000" stroke-width="0.4"/>
<text x="187.6" y="561.3" font-size="7.0" text-anchor="end" fill="#000" stroke="#000" stroke-width="0.22" transform="rotate(-45 187.6 561.3)">ICI_PT16</text>
<circle cx="195.4" cy="555.7" r="2.2" fill="#E010A0" stroke="#000" stroke-width="0.4"/>
<text x="197.8" y="561.3" font-size="7.0" text-anchor="end" fill="#000" stroke="#000" stroke-width="0.22" transform="rotate(-45 197.8 561.3)">ICI_PT17</text>
<circle cx="205.7" cy="555.7" r="2.2" fill="#D010D0" stroke="#000" stroke-width="0.4"/>
<text x="208.1" y="561.3" font-size="7.0" text-anchor="end" fill="#000" stroke="#000" stroke-width="0.22" transform="rotate(-45 208.1 561.3)">ICI_PT18</text>
<circle cx="215.9" cy="555.7" r="2.2" fill="#1030C0" stroke="#000" stroke-width="0.4"/>
<text x="218.3" y="561.3" font-size="7.0" text-anchor="end" fill="#000" stroke="#000" stroke-width="0.22" transform="rotate(-45 218.3 561.3)">ICI_PT19</text>
<circle cx="226.1" cy="555.7" r="2.2" fill="#F8E890" stroke="#000" stroke-width="0.4"/>
<text x="228.5" y="561.3" font-size="7.0" text-anchor="end" fill="#000" stroke="#000" stroke-width="0.22" transform="rotate(-45 228.5 561.3)">ICI_PT2</text>
<circle cx="236.3" cy="555.7" r="2.2" fill="#7B68EE" stroke="#000" stroke-width="0.4"/>
<text x="238.7" y="561.3" font-size="7.0" text-anchor="end" fill="#000" stroke="#000" stroke-width="0.22" transform="rotate(-45 238.7 561.3)">ICI_PT20</text>
<circle cx="246.5" cy="555.7" r="2.2" fill="#118811" stroke="#000" stroke-width="0.4"/>
<text x="248.9" y="561.3" font-size="7.0" text-anchor="end" fill="#000" stroke="#000" stroke-width="0.22" transform="rotate(-45 248.9 561.3)">ICI_PT3</text>
<circle cx="256.8" cy="555.7" r="2.2" fill="#F8E060" stroke="#000" stroke-width="0.4"/>
<text x="259.2" y="561.3" font-size="7.0" text-anchor="end" fill="#000" stroke="#000" stroke-width="0.22" transform="rotate(-45 259.2 561.3)">ICI_PT5</text>
<circle cx="267.0" cy="555.7" r="2.2" fill="#F07890" stroke="#000" stroke-width="0.4"/>
<text x="269.4" y="561.3" font-size="7.0" text-anchor="end" fill="#000" stroke="#000" stroke-width="0.22" transform="rotate(-45 269.4 561.3)">ICI_PT6</text>
<circle cx="277.2" cy="555.7" r="2.2" fill="#000070" stroke="#000" stroke-width="0.4"/>
<text x="279.6" y="561.3" font-size="7.0" text-anchor="end" fill="#000" stroke="#000" stroke-width="0.22" transform="rotate(-45 279.6 561.3)">ICI_PT7</text>
<circle cx="287.4" cy="555.7" r="2.2" fill="#A010B0" stroke="#000" stroke-width="0.4"/>
<text x="289.8" y="561.3" font-size="7.0" text-anchor="end" fill="#000" stroke="#000" stroke-width="0.22" transform="rotate(-45 289.8 561.3)">ICI_PT8</text>
<circle cx="297.6" cy="555.7" r="2.2" fill="#F0A060" stroke="#000" stroke-width="0.4"/>
<text x="300.0" y="561.3" font-size="7.0" text-anchor="end" fill="#000" stroke="#000" stroke-width="0.22" transform="rotate(-45 300.0 561.3)">ICI_PT9</text>
<text x="328.6" y="596.5" font-size="9.2" text-anchor="middle" fill="#000" stroke="#000" stroke-width="0.22" >Pre−imm_blood</text>
<rect x="262.1" y="601.9" width="135.6" height="70.6" fill="#fff"/>
<rect x="262.10" y="601.90" width="11.30" height="11.77" fill="#FFD8F8" stroke="#111" stroke-width="1.1"/>
<rect x="273.40" y="601.90" width="11.30" height="11.77" fill="#FFD8F8" stroke="#111" stroke-width="1.1"/>
<rect x="284.70" y="601.90" width="11.30" height="11.77" fill="#FFD8F8" stroke="#111" stroke-width="1.1"/>
<rect x="296.00" y="601.90" width="11.30" height="11.77" fill="#FFCCF6" stroke="#111" stroke-width="1.1"/>
<rect x="307.30" y="601.90" width="11.30" height="11.77" fill="#FFD8F8" stroke="#111" stroke-width="1.1"/>
<rect x="318.60" y="601.90" width="11.30" height="11.77" fill="#FFD8F8" stroke="#111" stroke-width="1.1"/>
<rect x="329.90" y="601.90" width="11.30" height="11.77" fill="#FFD8F8" stroke="#111" stroke-width="1.1"/>
<rect x="341.20" y="601.90" width="11.30" height="11.77" fill="#FFD8F8" stroke="#111" stroke-width="1.1"/>
<rect x="352.50" y="601.90" width="11.30" height="11.77" fill="#FFCCF6" stroke="#111" stroke-width="1.1"/>
<path d="M366.9,605.3 L371.9,610.3 M371.9,605.3 L366.9,610.3" stroke="#111" stroke-width="0.95"/>
<path d="M378.2,605.3 L383.2,610.3 M383.2,605.3 L378.2,610.3" stroke="#111" stroke-width="0.95"/>
<rect x="390.40" y="606.13" width="3.3" height="3.3" fill="#FFFFFF" stroke="#000" stroke-width="0.9"/>
<rect x="262.10" y="613.67" width="11.30" height="11.77" fill="#FFD8F8" stroke="#111" stroke-width="1.1"/>
<rect x="273.40" y="613.67" width="11.30" height="11.77" fill="#FFCCF6" stroke="#111" stroke-width="1.1"/>
<rect x="284.70" y="613.67" width="11.30" height="11.77" fill="#FFD8F8" stroke="#111" stroke-width="1.1"/>
<rect x="296.00" y="613.67" width="11.30" height="11.77" fill="#FFCCF6" stroke="#111" stroke-width="1.1"/>
<rect x="307.30" y="613.67" width="11.30" height="11.77" fill="#FFD8F8" stroke="#111" stroke-width="1.1"/>
<rect x="318.60" y="613.67" width="11.30" height="11.77" fill="#FFD8F8" stroke="#111" stroke-width="1.1"/>
<rect x="329.90" y="613.67" width="11.30" height="11.77" fill="#FFD8F8" stroke="#111" stroke-width="1.1"/>
<rect x="341.20" y="613.67" width="11.30" height="11.77" fill="#FFD8F8" stroke="#111" stroke-width="1.1"/>
<rect x="352.50" y="613.67" width="11.30" height="11.77" fill="#FFCCF6" stroke="#111" stroke-width="1.1"/>
<path d="M366.9,617.0 L371.9,622.0 M371.9,617.0 L366.9,622.0" stroke="#111" stroke-width="0.95"/>
<path d="M378.2,617.0 L383.2,622.0 M383.2,617.0 L378.2,622.0" stroke="#111" stroke-width="0.95"/>
<rect x="387.65" y="615.15" width="8.8" height="8.8" fill="#FFCCF6" stroke="#000" stroke-width="1.1"/>
<rect x="262.10" y="625.43" width="11.30" height="11.77" fill="#FFD8F8" stroke="#111" stroke-width="1.1"/>
<rect x="273.40" y="625.43" width="11.30" height="11.77" fill="#FFD8F8" stroke="#111" stroke-width="1.1"/>
<rect x="284.70" y="625.43" width="11.30" height="11.77" fill="#FFD8F8" stroke="#111" stroke-width="1.1"/>
<rect x="296.00" y="625.43" width="11.30" height="11.77" fill="#FFCCF6" stroke="#111" stroke-width="1.1"/>
<rect x="307.30" y="625.43" width="11.30" height="11.77" fill="#FFD8F8" stroke="#111" stroke-width="1.1"/>
<rect x="318.60" y="625.43" width="11.30" height="11.77" fill="#FFD8F8" stroke="#111" stroke-width="1.1"/>
<rect x="329.90" y="625.43" width="11.30" height="11.77" fill="#FFD8F8" stroke="#111" stroke-width="1.1"/>
<rect x="341.20" y="625.43" width="11.30" height="11.77" fill="#FFD8F8" stroke="#111" stroke-width="1.1"/>
<rect x="352.50" y="625.43" width="11.30" height="11.77" fill="#FFCCF6" stroke="#111" stroke-width="1.1"/>
<path d="M366.9,628.8 L371.9,633.8 M371.9,628.8 L366.9,633.8" stroke="#111" stroke-width="0.95"/>
<path d="M378.2,628.8 L383.2,633.8 M383.2,628.8 L378.2,633.8" stroke="#111" stroke-width="0.95"/>
<rect x="390.40" y="629.67" width="3.3" height="3.3" fill="#FFFFFF" stroke="#000" stroke-width="0.9"/>
<rect x="262.10" y="637.20" width="11.30" height="11.77" fill="#FFD8F8" stroke="#111" stroke-width="1.1"/>
<rect x="273.40" y="637.20" width="11.30" height="11.77" fill="#FFD8F8" stroke="#111" stroke-width="1.1"/>
<rect x="284.70" y="637.20" width="11.30" height="11.77" fill="#FFD8F8" stroke="#111" stroke-width="1.1"/>
<rect x="296.00" y="637.20" width="11.30" height="11.77" fill="#FFCCF6" stroke="#111" stroke-width="1.1"/>
<rect x="307.30" y="637.20" width="11.30" height="11.77" fill="#FFD8F8" stroke="#111" stroke-width="1.1"/>
<rect x="322.60" y="641.43" width="3.3" height="3.3" fill="#FFFFFF" stroke="#000" stroke-width="0.9"/>
<rect x="333.90" y="641.43" width="3.3" height="3.3" fill="#FFFFFF" stroke="#000" stroke-width="0.9"/>
<rect x="341.20" y="637.20" width="11.30" height="11.77" fill="#FFD8F8" stroke="#111" stroke-width="1.1"/>
<rect x="352.50" y="637.20" width="11.30" height="11.77" fill="#FFCCF6" stroke="#111" stroke-width="1.1"/>
<path d="M366.9,640.6 L371.9,645.6 M371.9,640.6 L366.9,645.6" stroke="#111" stroke-width="0.95"/>
<path d="M378.2,640.6 L383.2,645.6 M383.2,640.6 L378.2,645.6" stroke="#111" stroke-width="0.95"/>
<rect x="390.40" y="641.43" width="3.3" height="3.3" fill="#FFFFFF" stroke="#000" stroke-width="0.9"/>
<rect x="266.10" y="653.20" width="3.3" height="3.3" fill="#FFCCF6" stroke="#000" stroke-width="0.9"/>
<rect x="274.65" y="650.45" width="8.8" height="8.8" fill="#C4FFFF" stroke="#000" stroke-width="1.1"/>
<rect x="284.95" y="649.45" width="10.8" height="10.8" fill="#D8FFFF" stroke="#000" stroke-width="1.1"/>
<rect x="297.25" y="650.45" width="8.8" height="8.8" fill="#C4FFFF" stroke="#000" stroke-width="1.1"/>
<rect x="307.30" y="648.97" width="11.30" height="11.77" fill="#8CF8F8" stroke="#111" stroke-width="1.1"/>
<rect x="322.60" y="653.20" width="3.3" height="3.3" fill="#FFCCF6" stroke="#000" stroke-width="0.9"/>
<rect x="329.90" y="648.97" width="11.30" height="11.77" fill="#8CF8F8" stroke="#111" stroke-width="1.1"/>
<rect x="341.20" y="648.97" width="11.30" height="11.77" fill="#C4FFFF" stroke="#111" stroke-width="1.1"/>
<rect x="352.50" y="648.97" width="11.30" height="11.77" fill="#FF10F0" stroke="#111" stroke-width="1.1"/>
<path d="M366.9,652.4 L371.9,657.4 M371.9,652.4 L366.9,657.4" stroke="#111" stroke-width="0.95"/>
<path d="M378.2,652.4 L383.2,657.4 M383.2,652.4 L378.2,657.4" stroke="#111" stroke-width="0.95"/>
<rect x="387.65" y="650.45" width="8.8" height="8.8" fill="#60F0F0" stroke="#000" stroke-width="1.1"/>
<rect x="263.35" y="662.22" width="8.8" height="8.8" fill="#D8FFFF" stroke="#000" stroke-width="1.1"/>
<rect x="277.40" y="664.97" width="3.3" height="3.3" fill="#CCFFFF" stroke="#000" stroke-width="0.9"/>
<rect x="288.70" y="664.97" width="3.3" height="3.3" fill="#FF40F0" stroke="#000" stroke-width="0.9"/>
<rect x="297.25" y="662.22" width="8.8" height="8.8" fill="#D8FFFF" stroke="#000" stroke-width="1.1"/>
<rect x="307.30" y="660.73" width="11.30" height="11.77" fill="#C4FFFF" stroke="#111" stroke-width="1.1"/>
<rect x="318.60" y="660.73" width="11.30" height="11.77" fill="#FFA8EE" stroke="#111" stroke-width="1.1"/>
<rect x="329.90" y="660.73" width="11.30" height="11.77" fill="#D8FFFF" stroke="#111" stroke-width="1.1"/>
<rect x="341.20" y="660.73" width="11.30" height="11.77" fill="#FFCCF6" stroke="#111" stroke-width="1.1"/>
<rect x="356.50" y="664.97" width="3.3" height="3.3" fill="#FFCCF6" stroke="#000" stroke-width="0.9"/>
<path d="M366.9,664.1 L371.9,669.1 M371.9,664.1 L366.9,669.1" stroke="#111" stroke-width="0.95"/>
<path d="M378.2,664.1 L383.2,669.1 M383.2,664.1 L378.2,669.1" stroke="#111" stroke-width="0.95"/>
<rect x="390.40" y="664.97" width="3.3" height="3.3" fill="#CCFFFF" stroke="#000" stroke-width="0.9"/>
<rect x="262.1" y="601.9" width="135.6" height="70.6" fill="none" stroke="#000" stroke-width="1"/>
<line x1="258.1" y1="607.8" x2="262.1" y2="607.8" stroke="#333" stroke-width="0.6"/>
<text x="257.5" y="609.9" font-size="8.1" text-anchor="end" fill="#000" stroke="#000" stroke-width="0.22" >MHC class II antigen presentation</text>
<line x1="258.1" y1="619.5" x2="262.1" y2="619.5" stroke="#333" stroke-width="0.6"/>
<text x="257.5" y="621.6" font-size="8.1" text-anchor="end" fill="#000" stroke="#000" stroke-width="0.22" >Class I MHC mediated antigen processing presentation</text>
<line x1="258.1" y1="631.3" x2="262.1" y2="631.3" stroke="#333" stroke-width="0.6"/>
<text x="257.5" y="633.4" font-size="8.1" text-anchor="end" fill="#000" stroke="#000" stroke-width="0.22" >Inflammatory response</text>
<line x1="258.1" y1="643.1" x2="262.1" y2="643.1" stroke="#333" stroke-width="0.6"/>
<text x="257.5" y="645.2" font-size="8.1" text-anchor="end" fill="#000" stroke="#000" stroke-width="0.22" >Cytokine production involved in inflammatory response</text>
<line x1="258.1" y1="654.9" x2="262.1" y2="654.9" stroke="#333" stroke-width="0.6"/>
<text x="257.5" y="657.0" font-size="8.1" text-anchor="end" fill="#000" stroke="#000" stroke-width="0.22" >Angiogenesis</text>
<line x1="258.1" y1="666.6" x2="262.1" y2="666.6" stroke="#333" stroke-width="0.6"/>
<text x="257.5" y="668.7" font-size="8.1" text-anchor="end" fill="#000" stroke="#000" stroke-width="0.22" >Phagocytosis</text>
<line x1="267.8" y1="672.5" x2="267.8" y2="676.5" stroke="#333" stroke-width="0.6"/>
<text x="270.8" y="678.8" font-size="8.15" text-anchor="end" fill="#000" stroke="#000" stroke-width="0.22" transform="rotate(-90 270.8 678.8)">Mono.FOLR3</text>
<line x1="279.1" y1="672.5" x2="279.1" y2="676.5" stroke="#333" stroke-width="0.6"/>
<text x="282.1" y="678.8" font-size="8.15" text-anchor="end" fill="#000" stroke="#000" stroke-width="0.22" transform="rotate(-90 282.1 678.8)">Mono.ISG15</text>
<line x1="290.4" y1="672.5" x2="290.4" y2="676.5" stroke="#333" stroke-width="0.6"/>
<text x="293.4" y="678.8" font-size="8.15" text-anchor="end" fill="#000" stroke="#000" stroke-width="0.22" transform="rotate(-90 293.4 678.8)">Macro.TNFRSF8</text>
<line x1="301.7" y1="672.5" x2="301.7" y2="676.5" stroke="#333" stroke-width="0.6"/>
<text x="304.7" y="678.8" font-size="8.15" text-anchor="end" fill="#000" stroke="#000" stroke-width="0.22" transform="rotate(-90 304.7 678.8)">Mono.CCL5</text>
<line x1="312.9" y1="672.5" x2="312.9" y2="676.5" stroke="#333" stroke-width="0.6"/>
<text x="315.9" y="678.8" font-size="8.15" text-anchor="end" fill="#000" stroke="#000" stroke-width="0.22" transform="rotate(-90 315.9 678.8)">Mono.LY96</text>
<line x1="324.2" y1="672.5" x2="324.2" y2="676.5" stroke="#333" stroke-width="0.6"/>
<text x="327.2" y="678.8" font-size="8.15" text-anchor="end" fill="#000" stroke="#000" stroke-width="0.22" transform="rotate(-90 327.2 678.8)">Macro.GRK2</text>
<line x1="335.6" y1="672.5" x2="335.6" y2="676.5" stroke="#333" stroke-width="0.6"/>
<text x="338.6" y="678.8" font-size="8.15" text-anchor="end" fill="#000" stroke="#000" stroke-width="0.22" transform="rotate(-90 338.6 678.8)">Mono.SERPINB1</text>
<line x1="346.9" y1="672.5" x2="346.9" y2="676.5" stroke="#333" stroke-width="0.6"/>
<text x="349.9" y="678.8" font-size="8.15" text-anchor="end" fill="#000" stroke="#000" stroke-width="0.22" transform="rotate(-90 349.9 678.8)">Mono.MHCII</text>
<line x1="358.1" y1="672.5" x2="358.1" y2="676.5" stroke="#333" stroke-width="0.6"/>
<text x="361.1" y="678.8" font-size="8.15" text-anchor="end" fill="#000" stroke="#000" stroke-width="0.22" transform="rotate(-90 361.1 678.8)">Mono.NLRP3</text>
<line x1="369.4" y1="672.5" x2="369.4" y2="676.5" stroke="#333" stroke-width="0.6"/>
<text x="372.4" y="678.8" font-size="8.15" text-anchor="end" fill="#000" stroke="#000" stroke-width="0.22" transform="rotate(-90 372.4 678.8)">Macro.TREM2</text>
<line x1="380.8" y1="672.5" x2="380.8" y2="676.5" stroke="#333" stroke-width="0.6"/>
<text x="383.8" y="678.8" font-size="8.15" text-anchor="end" fill="#000" stroke="#000" stroke-width="0.22" transform="rotate(-90 383.8 678.8)">Macro.TPSAB1</text>
<line x1="392.0" y1="672.5" x2="392.0" y2="676.5" stroke="#333" stroke-width="0.6"/>
<text x="395.0" y="678.8" font-size="8.15" text-anchor="end" fill="#000" stroke="#000" stroke-width="0.22" transform="rotate(-90 395.0 678.8)">Macro.IL1B</text>
<text x="477.0" y="596.5" font-size="9.2" text-anchor="middle" fill="#000" stroke="#000" stroke-width="0.22" >On−imm_blood</text>
<rect x="410.5" y="601.9" width="135.6" height="70.6" fill="#fff"/>
<rect x="411.75" y="603.38" width="8.8" height="8.8" fill="#FFCCF6" stroke="#000" stroke-width="1.1"/>
<rect x="421.80" y="601.90" width="11.30" height="11.77" fill="#FFD8F8" stroke="#111" stroke-width="1.1"/>
<rect x="433.10" y="601.90" width="11.30" height="11.77" fill="#D8FFFF" stroke="#111" stroke-width="1.1"/>
<rect x="444.40" y="601.90" width="11.30" height="11.77" fill="#D8FFFF" stroke="#111" stroke-width="1.1"/>
<rect x="459.70" y="606.13" width="3.3" height="3.3" fill="#FFFFFF" stroke="#000" stroke-width="0.9"/>
<rect x="468.25" y="603.38" width="8.8" height="8.8" fill="#FFCCF6" stroke="#000" stroke-width="1.1"/>
<rect x="482.30" y="606.13" width="3.3" height="3.3" fill="#FFFFFF" stroke="#000" stroke-width="0.9"/>
<rect x="489.60" y="601.90" width="11.30" height="11.77" fill="#D8FFFF" stroke="#111" stroke-width="1.1"/>
<rect x="500.90" y="601.90" width="11.30" height="11.77" fill="#D8FFFF" stroke="#111" stroke-width="1.1"/>
<path d="M515.4,605.3 L520.4,610.3 M520.4,605.3 L515.4,610.3" stroke="#111" stroke-width="0.95"/>
<path d="M526.6,605.3 L531.6,610.3 M531.6,605.3 L526.6,610.3" stroke="#111" stroke-width="0.95"/>
<rect x="538.80" y="606.13" width="3.3" height="3.3" fill="#FFFFFF" stroke="#000" stroke-width="0.9"/>
<rect x="410.50" y="613.67" width="11.30" height="11.77" fill="#FFD8F8" stroke="#111" stroke-width="1.1"/>
<rect x="421.80" y="613.67" width="11.30" height="11.77" fill="#FFD8F8" stroke="#111" stroke-width="1.1"/>
<rect x="433.10" y="613.67" width="11.30" height="11.77" fill="#D8FFFF" stroke="#111" stroke-width="1.1"/>
<rect x="444.40" y="613.67" width="11.30" height="11.77" fill="#D8FFFF" stroke="#111" stroke-width="1.1"/>
<rect x="456.95" y="615.15" width="8.8" height="8.8" fill="#C4FFFF" stroke="#000" stroke-width="1.1"/>
<rect x="471.00" y="617.90" width="3.3" height="3.3" fill="#FFFFFF" stroke="#000" stroke-width="0.9"/>
<rect x="482.30" y="617.90" width="3.3" height="3.3" fill="#FFFFFF" stroke="#000" stroke-width="0.9"/>
<rect x="489.60" y="613.67" width="11.30" height="11.77" fill="#D8FFFF" stroke="#111" stroke-width="1.1"/>
<rect x="500.90" y="613.67" width="11.30" height="11.77" fill="#D8FFFF" stroke="#111" stroke-width="1.1"/>
<path d="M515.4,617.0 L520.4,622.0 M520.4,617.0 L515.4,622.0" stroke="#111" stroke-width="0.95"/>
<path d="M526.6,617.0 L531.6,622.0 M531.6,617.0 L526.6,622.0" stroke="#111" stroke-width="0.95"/>
<rect x="538.80" y="617.90" width="3.3" height="3.3" fill="#FFFFFF" stroke="#000" stroke-width="0.9"/>
<rect x="410.50" y="625.43" width="11.30" height="11.77" fill="#FFD8F8" stroke="#111" stroke-width="1.1"/>
<rect x="421.80" y="625.43" width="11.30" height="11.77" fill="#FFD8F8" stroke="#111" stroke-width="1.1"/>
<rect x="433.10" y="625.43" width="11.30" height="11.77" fill="#D8FFFF" stroke="#111" stroke-width="1.1"/>
<rect x="444.40" y="625.43" width="11.30" height="11.77" fill="#D8FFFF" stroke="#111" stroke-width="1.1"/>
<rect x="455.70" y="625.43" width="11.30" height="11.77" fill="#D8FFFF" stroke="#111" stroke-width="1.1"/>
<rect x="467.00" y="625.43" width="11.30" height="11.77" fill="#FFCCF6" stroke="#111" stroke-width="1.1"/>
<rect x="478.30" y="625.43" width="11.30" height="11.77" fill="#D8FFFF" stroke="#111" stroke-width="1.1"/>
<rect x="489.60" y="625.43" width="11.30" height="11.77" fill="#D8FFFF" stroke="#111" stroke-width="1.1"/>
<rect x="502.15" y="626.92" width="8.8" height="8.8" fill="#D8FFFF" stroke="#000" stroke-width="1.1"/>
<path d="M515.4,628.8 L520.4,633.8 M520.4,628.8 L515.4,633.8" stroke="#111" stroke-width="0.95"/>
<path d="M526.6,628.8 L531.6,633.8 M531.6,628.8 L526.6,633.8" stroke="#111" stroke-width="0.95"/>
<rect x="536.05" y="626.92" width="8.8" height="8.8" fill="#FFCCF6" stroke="#000" stroke-width="1.1"/>
<rect x="411.75" y="638.68" width="8.8" height="8.8" fill="#FFCCF6" stroke="#000" stroke-width="1.1"/>
<rect x="421.80" y="637.20" width="11.30" height="11.77" fill="#FFD8F8" stroke="#111" stroke-width="1.1"/>
<rect x="433.10" y="637.20" width="11.30" height="11.77" fill="#D8FFFF" stroke="#111" stroke-width="1.1"/>
<rect x="444.40" y="637.20" width="11.30" height="11.77" fill="#D8FFFF" stroke="#111" stroke-width="1.1"/>
<rect x="455.70" y="637.20" width="11.30" height="11.77" fill="#D8FFFF" stroke="#111" stroke-width="1.1"/>
<rect x="471.00" y="641.43" width="3.3" height="3.3" fill="#FFFFFF" stroke="#000" stroke-width="0.9"/>
<rect x="478.30" y="637.20" width="11.30" height="11.77" fill="#D8FFFF" stroke="#111" stroke-width="1.1"/>
<rect x="489.60" y="637.20" width="11.30" height="11.77" fill="#D8FFFF" stroke="#111" stroke-width="1.1"/>
<rect x="502.15" y="638.68" width="8.8" height="8.8" fill="#D8FFFF" stroke="#000" stroke-width="1.1"/>
<path d="M515.4,640.6 L520.4,645.6 M520.4,640.6 L515.4,645.6" stroke="#111" stroke-width="0.95"/>
<path d="M526.6,640.6 L531.6,645.6 M531.6,640.6 L526.6,645.6" stroke="#111" stroke-width="0.95"/>
<rect x="538.80" y="641.43" width="3.3" height="3.3" fill="#FFFFFF" stroke="#000" stroke-width="0.9"/>
<rect x="410.50" y="648.97" width="11.30" height="11.77" fill="#FFC2F4" stroke="#111" stroke-width="1.1"/>
<rect x="421.80" y="648.97" width="11.30" height="11.77" fill="#FFC2F4" stroke="#111" stroke-width="1.1"/>
<rect x="434.35" y="650.45" width="8.8" height="8.8" fill="#D8FFFF" stroke="#000" stroke-width="1.1"/>
<rect x="444.40" y="648.97" width="11.30" height="11.77" fill="#C4FFFF" stroke="#111" stroke-width="1.1"/>
<rect x="459.70" y="653.20" width="3.3" height="3.3" fill="#FFFFFF" stroke="#000" stroke-width="0.9"/>
<rect x="471.00" y="653.20" width="3.3" height="3.3" fill="#FFFFFF" stroke="#000" stroke-width="0.9"/>
<rect x="478.30" y="648.97" width="11.30" height="11.77" fill="#C4FFFF" stroke="#111" stroke-width="1.1"/>
<rect x="489.60" y="648.97" width="11.30" height="11.77" fill="#C4FFFF" stroke="#111" stroke-width="1.1"/>
<rect x="504.90" y="653.20" width="3.3" height="3.3" fill="#CCFFFF" stroke="#000" stroke-width="0.9"/>
<path d="M515.4,652.4 L520.4,657.4 M520.4,652.4 L515.4,657.4" stroke="#111" stroke-width="0.95"/>
<path d="M526.6,652.4 L531.6,657.4 M531.6,652.4 L526.6,657.4" stroke="#111" stroke-width="0.95"/>
<rect x="538.80" y="653.20" width="3.3" height="3.3" fill="#FFFFFF" stroke="#000" stroke-width="0.9"/>
<rect x="410.50" y="660.73" width="11.30" height="11.77" fill="#FFA8EE" stroke="#111" stroke-width="1.1"/>
<rect x="421.80" y="660.73" width="11.30" height="11.77" fill="#FFD8F8" stroke="#111" stroke-width="1.1"/>
<rect x="433.10" y="660.73" width="11.30" height="11.77" fill="#FFA8EE" stroke="#111" stroke-width="1.1"/>
<rect x="445.65" y="662.22" width="8.8" height="8.8" fill="#FFCCF6" stroke="#000" stroke-width="1.1"/>
<rect x="455.70" y="660.73" width="11.30" height="11.77" fill="#FFD8F8" stroke="#111" stroke-width="1.1"/>
<rect x="467.00" y="660.73" width="11.30" height="11.77" fill="#FFC2F4" stroke="#111" stroke-width="1.1"/>
<rect x="478.30" y="660.73" width="11.30" height="11.77" fill="#FFD8F8" stroke="#111" stroke-width="1.1"/>
<rect x="489.60" y="660.73" width="11.30" height="11.77" fill="#FFD8F8" stroke="#111" stroke-width="1.1"/>
<rect x="502.15" y="662.22" width="8.8" height="8.8" fill="#C4FFFF" stroke="#000" stroke-width="1.1"/>
<path d="M515.4,664.1 L520.4,669.1 M520.4,664.1 L515.4,669.1" stroke="#111" stroke-width="0.95"/>
<path d="M526.6,664.1 L531.6,669.1 M531.6,664.1 L526.6,669.1" stroke="#111" stroke-width="0.95"/>
<rect x="538.80" y="664.97" width="3.3" height="3.3" fill="#FF40F0" stroke="#000" stroke-width="0.9"/>
<rect x="410.5" y="601.9" width="135.6" height="70.6" fill="none" stroke="#000" stroke-width="1"/>
<line x1="406.5" y1="607.8" x2="410.5" y2="607.8" stroke="#333" stroke-width="0.6"/>
<line x1="406.5" y1="619.5" x2="410.5" y2="619.5" stroke="#333" stroke-width="0.6"/>
<line x1="406.5" y1="631.3" x2="410.5" y2="631.3" stroke="#333" stroke-width="0.6"/>
<line x1="406.5" y1="643.1" x2="410.5" y2="643.1" stroke="#333" stroke-width="0.6"/>
<line x1="406.5" y1="654.9" x2="410.5" y2="654.9" stroke="#333" stroke-width="0.6"/>
<line x1="406.5" y1="666.6" x2="410.5" y2="666.6" stroke="#333" stroke-width="0.6"/>
<line x1="416.1" y1="672.5" x2="416.1" y2="676.5" stroke="#333" stroke-width="0.6"/>
<text x="419.1" y="678.8" font-size="8.15" text-anchor="end" fill="#000" stroke="#000" stroke-width="0.22" transform="rotate(-90 419.1 678.8)">Mono.FOLR3</text>
<line x1="427.4" y1="672.5" x2="427.4" y2="676.5" stroke="#333" stroke-width="0.6"/>
<text x="430.4" y="678.8" font-size="8.15" text-anchor="end" fill="#000" stroke="#000" stroke-width="0.22" transform="rotate(-90 430.4 678.8)">Mono.ISG15</text>
<line x1="438.8" y1="672.5" x2="438.8" y2="676.5" stroke="#333" stroke-width="0.6"/>
<text x="441.8" y="678.8" font-size="8.15" text-anchor="end" fill="#000" stroke="#000" stroke-width="0.22" transform="rotate(-90 441.8 678.8)">Macro.TNFRSF8</text>
<line x1="450.1" y1="672.5" x2="450.1" y2="676.5" stroke="#333" stroke-width="0.6"/>
<text x="453.1" y="678.8" font-size="8.15" text-anchor="end" fill="#000" stroke="#000" stroke-width="0.22" transform="rotate(-90 453.1 678.8)">Mono.CCL5</text>
<line x1="461.4" y1="672.5" x2="461.4" y2="676.5" stroke="#333" stroke-width="0.6"/>
<text x="464.4" y="678.8" font-size="8.15" text-anchor="end" fill="#000" stroke="#000" stroke-width="0.22" transform="rotate(-90 464.4 678.8)">Mono.LY96</text>
<line x1="472.7" y1="672.5" x2="472.7" y2="676.5" stroke="#333" stroke-width="0.6"/>
<text x="475.7" y="678.8" font-size="8.15" text-anchor="end" fill="#000" stroke="#000" stroke-width="0.22" transform="rotate(-90 475.7 678.8)">Macro.GRK2</text>
<line x1="484.0" y1="672.5" x2="484.0" y2="676.5" stroke="#333" stroke-width="0.6"/>
<text x="487.0" y="678.8" font-size="8.15" text-anchor="end" fill="#000" stroke="#000" stroke-width="0.22" transform="rotate(-90 487.0 678.8)">Mono.SERPINB1</text>
<line x1="495.2" y1="672.5" x2="495.2" y2="676.5" stroke="#333" stroke-width="0.6"/>
<text x="498.2" y="678.8" font-size="8.15" text-anchor="end" fill="#000" stroke="#000" stroke-width="0.22" transform="rotate(-90 498.2 678.8)">Mono.MHCII</text>
<line x1="506.6" y1="672.5" x2="506.6" y2="676.5" stroke="#333" stroke-width="0.6"/>
<text x="509.6" y="678.8" font-size="8.15" text-anchor="end" fill="#000" stroke="#000" stroke-width="0.22" transform="rotate(-90 509.6 678.8)">Mono.NLRP3</text>
<line x1="517.9" y1="672.5" x2="517.9" y2="676.5" stroke="#333" stroke-width="0.6"/>
<text x="520.9" y="678.8" font-size="8.15" text-anchor="end" fill="#000" stroke="#000" stroke-width="0.22" transform="rotate(-90 520.9 678.8)">Macro.TREM2</text>
<line x1="529.1" y1="672.5" x2="529.1" y2="676.5" stroke="#333" stroke-width="0.6"/>
<text x="532.1" y="678.8" font-size="8.15" text-anchor="end" fill="#000" stroke="#000" stroke-width="0.22" transform="rotate(-90 532.1 678.8)">Macro.TPSAB1</text>
<line x1="540.5" y1="672.5" x2="540.5" y2="676.5" stroke="#333" stroke-width="0.6"/>
<text x="543.5" y="678.8" font-size="8.15" text-anchor="end" fill="#000" stroke="#000" stroke-width="0.22" transform="rotate(-90 543.5 678.8)">Macro.IL1B</text>
<text x="596.0" y="607.4" font-size="7.0" text-anchor="middle" fill="#000" stroke="#000" stroke-width="0.22" >irAEs vs non-irAEs</text>
<text x="568.7" y="616.8" font-size="6.8" text-anchor="middle" fill="#000" stroke="#000" stroke-width="0.22" >Upregulated</text>
<text x="614.8" y="616.8" font-size="6.8" text-anchor="middle" fill="#000" stroke="#000" stroke-width="0.22" >Downregulated</text>
<defs><linearGradient id="gp" x1="0" y1="0" x2="0" y2="1"><stop offset="0" stop-color="#FF2CEE"/><stop offset="1" stop-color="#FFF4FF"/></linearGradient><linearGradient id="gc" x1="0" y1="0" x2="0" y2="1"><stop offset="0" stop-color="#F0FFFF"/><stop offset="1" stop-color="#1EEEEE"/></linearGradient></defs>
<rect x="562.4" y="620.2" width="10.2" height="49.5" fill="url(#gp)"/>
<rect x="598.1" y="620.2" width="9.9" height="49.5" fill="url(#gc)"/>
<line x1="562.4" y1="626.8" x2="564.4" y2="626.8" stroke="#fff" stroke-width="0.5"/><line x1="570.6" y1="626.8" x2="572.6" y2="626.8" stroke="#fff" stroke-width="0.5"/>
<text x="575.7" y="629.0" font-size="6.2" text-anchor="start" fill="#000" stroke="#000" stroke-width="0.22" >0.20</text>
<line x1="562.4" y1="637.6" x2="564.4" y2="637.6" stroke="#fff" stroke-width="0.5"/><line x1="570.6" y1="637.6" x2="572.6" y2="637.6" stroke="#fff" stroke-width="0.5"/>
<text x="575.7" y="639.8" font-size="6.2" text-anchor="start" fill="#000" stroke="#000" stroke-width="0.22" >0.15</text>
<line x1="562.4" y1="648.7" x2="564.4" y2="648.7" stroke="#fff" stroke-width="0.5"/><line x1="570.6" y1="648.7" x2="572.6" y2="648.7" stroke="#fff" stroke-width="0.5"/>
<text x="575.7" y="650.9" font-size="6.2" text-anchor="start" fill="#000" stroke="#000" stroke-width="0.22" >0.10</text>
<line x1="562.4" y1="659.5" x2="564.4" y2="659.5" stroke="#fff" stroke-width="0.5"/><line x1="570.6" y1="659.5" x2="572.6" y2="659.5" stroke="#fff" stroke-width="0.5"/>
<text x="575.7" y="661.7" font-size="6.2" text-anchor="start" fill="#000" stroke="#000" stroke-width="0.22" >0.05</text>
<line x1="598.1" y1="631.9" x2="600.1" y2="631.9" stroke="#fff" stroke-width="0.5"/><line x1="606" y1="631.9" x2="608" y2="631.9" stroke="#fff" stroke-width="0.5"/>
<text x="611.4" y="634.1" font-size="6.2" text-anchor="start" fill="#000" stroke="#000" stroke-width="0.22" >−0.025</text>
<line x1="598.1" y1="644.2" x2="600.1" y2="644.2" stroke="#fff" stroke-width="0.5"/><line x1="606" y1="644.2" x2="608" y2="644.2" stroke="#fff" stroke-width="0.5"/>
<text x="611.4" y="646.4" font-size="6.2" text-anchor="start" fill="#000" stroke="#000" stroke-width="0.22" >−0.050</text>
<line x1="598.1" y1="656.4" x2="600.1" y2="656.4" stroke="#fff" stroke-width="0.5"/><line x1="606" y1="656.4" x2="608" y2="656.4" stroke="#fff" stroke-width="0.5"/>
<text x="611.4" y="658.6" font-size="6.2" text-anchor="start" fill="#000" stroke="#000" stroke-width="0.22" >−0.075</text>
<line x1="598.1" y1="668.7" x2="600.1" y2="668.7" stroke="#fff" stroke-width="0.5"/><line x1="606" y1="668.7" x2="608" y2="668.7" stroke="#fff" stroke-width="0.5"/>
<text x="611.4" y="670.9" font-size="6.2" text-anchor="start" fill="#000" stroke="#000" stroke-width="0.22" >−0.100</text>
<text x="563.0" y="696.8" font-size="7.0" text-anchor="start" fill="#000" stroke="#000" stroke-width="0.22" >FDR</text>
<rect x="564.6" y="703.6" width="11.9" height="11.4" fill="#fff" stroke="#222" stroke-width="1.1"/>
<rect x="566.2" y="719" width="8.6" height="8.2" fill="#fff" stroke="#222" stroke-width="1.1"/>
<rect x="568.9" y="732.4" width="3.3" height="3.3" fill="#fff" stroke="#222" stroke-width="0.9"/>
<text x="582.2" y="711.8" font-size="6.2" text-anchor="start" fill="#000" stroke="#000" stroke-width="0.22" >0.01</text>
<text x="582.2" y="725.5" font-size="6.2" text-anchor="start" fill="#000" stroke="#000" stroke-width="0.22" >0.01−0.1</text>
<text x="582.2" y="736.2" font-size="6.2" text-anchor="start" fill="#000" stroke="#000" stroke-width="0.22" >&gt;=0.1</text>
</svg>
</body></html>
